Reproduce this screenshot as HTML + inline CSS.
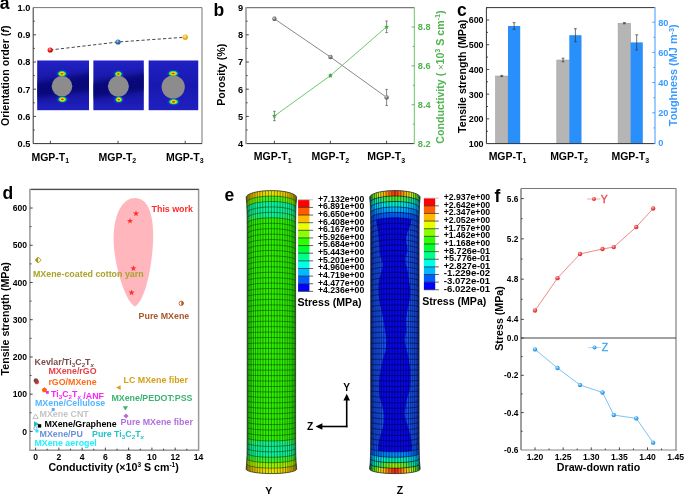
<!DOCTYPE html>
<html><head><meta charset="utf-8"><style>
html,body{margin:0;padding:0;background:#fff;overflow:hidden;}
svg{display:block;will-change:transform;}
text{font-family:"Liberation Sans", sans-serif;}
</style></head><body>
<svg width="685" height="494" viewBox="0 0 685 494">

<defs>
<linearGradient id="insbg" x1="0" y1="0" x2="0" y2="1">
 <stop offset="0" stop-color="#2222c8"/><stop offset="0.3" stop-color="#1a1aac"/>
 <stop offset="0.5" stop-color="#14149c"/><stop offset="0.7" stop-color="#1818a8"/>
 <stop offset="1" stop-color="#2020c0"/>
</linearGradient>
<linearGradient id="insbg3" x1="0" y1="0" x2="0" y2="1">
 <stop offset="0" stop-color="#2020c4"/><stop offset="0.5" stop-color="#1818b0"/>
 <stop offset="1" stop-color="#2020c0"/>
</linearGradient>
<filter id="blur2" x="-20%" y="-50%" width="140%" height="200%"><feGaussianBlur stdDeviation="2.5"/></filter>
<radialGradient id="spot">
 <stop offset="0" stop-color="#ff1a00"/><stop offset="0.22" stop-color="#ff4000"/>
 <stop offset="0.42" stop-color="#f4e800"/><stop offset="0.62" stop-color="#60f020"/>
 <stop offset="0.8" stop-color="#10e050"/><stop offset="1" stop-color="#10a0e0" stop-opacity="0"/>
</radialGradient>
<radialGradient id="halo">
 <stop offset="0" stop-color="#20a0ff" stop-opacity="0.9"/><stop offset="0.6" stop-color="#2060f0" stop-opacity="0.5"/>
 <stop offset="1" stop-color="#2020c0" stop-opacity="0"/>
</radialGradient>
<radialGradient id="gr" cx="0.4" cy="0.35" r="0.7"><stop offset="0" stop-color="#ffb0b0"/><stop offset="0.45" stop-color="#f02020"/><stop offset="1" stop-color="#b00000"/></radialGradient>
<radialGradient id="gb" cx="0.4" cy="0.35" r="0.7"><stop offset="0" stop-color="#a0c8f0"/><stop offset="0.45" stop-color="#3a78b8"/><stop offset="1" stop-color="#1a4a80"/></radialGradient>
<radialGradient id="gy" cx="0.4" cy="0.35" r="0.7"><stop offset="0" stop-color="#fff0a0"/><stop offset="0.45" stop-color="#f8c020"/><stop offset="1" stop-color="#d09000"/></radialGradient>
<radialGradient id="ggray" cx="0.4" cy="0.35" r="0.7"><stop offset="0" stop-color="#e0e0e0"/><stop offset="0.45" stop-color="#808080"/><stop offset="1" stop-color="#505050"/></radialGradient>
<radialGradient id="gred2" cx="0.4" cy="0.35" r="0.7"><stop offset="0" stop-color="#ffc0c0"/><stop offset="0.5" stop-color="#ee4444"/><stop offset="1" stop-color="#c83030"/></radialGradient>
<radialGradient id="gblu2" cx="0.4" cy="0.35" r="0.7"><stop offset="0" stop-color="#d0ecff"/><stop offset="0.5" stop-color="#40a8f0"/><stop offset="1" stop-color="#2088d8"/></radialGradient>
</defs>
<defs><linearGradient id="rg0" gradientUnits="userSpaceOnUse" x1="246.20" y1="0" x2="296.60" y2="0"><stop offset="0.000" stop-color="#d89000"/><stop offset="0.125" stop-color="#e8b000"/><stop offset="0.250" stop-color="#f0c800"/><stop offset="0.375" stop-color="#f0d800"/><stop offset="0.500" stop-color="#f0e000"/><stop offset="0.625" stop-color="#f0d800"/><stop offset="0.750" stop-color="#f0c800"/><stop offset="0.875" stop-color="#e8b000"/><stop offset="1.000" stop-color="#d89000"/></linearGradient><linearGradient id="rg1" gradientUnits="userSpaceOnUse" x1="246.20" y1="0" x2="296.60" y2="0"><stop offset="0.000" stop-color="#90e000"/><stop offset="0.167" stop-color="#70e800"/><stop offset="0.333" stop-color="#50f020"/><stop offset="0.500" stop-color="#40f020"/><stop offset="0.667" stop-color="#50f020"/><stop offset="0.833" stop-color="#70e800"/><stop offset="1.000" stop-color="#90e000"/></linearGradient><linearGradient id="rg2" gradientUnits="userSpaceOnUse" x1="246.20" y1="0" x2="296.60" y2="0"><stop offset="0.000" stop-color="#30f050"/><stop offset="0.167" stop-color="#28f070"/><stop offset="0.333" stop-color="#18f090"/><stop offset="0.500" stop-color="#10f0a0"/><stop offset="0.667" stop-color="#18f090"/><stop offset="0.833" stop-color="#28f070"/><stop offset="1.000" stop-color="#30f050"/></linearGradient><linearGradient id="rg3" gradientUnits="userSpaceOnUse" x1="246.20" y1="0" x2="296.60" y2="0"><stop offset="0.000" stop-color="#30f050"/><stop offset="0.167" stop-color="#28f070"/><stop offset="0.333" stop-color="#18f090"/><stop offset="0.500" stop-color="#10f0a0"/><stop offset="0.667" stop-color="#18f090"/><stop offset="0.833" stop-color="#28f070"/><stop offset="1.000" stop-color="#30f050"/></linearGradient><linearGradient id="rg4" gradientUnits="userSpaceOnUse" x1="246.20" y1="0" x2="296.60" y2="0"><stop offset="0.000" stop-color="#c0e000"/><stop offset="0.167" stop-color="#b0e800"/><stop offset="0.333" stop-color="#a0f000"/><stop offset="0.500" stop-color="#a0f000"/><stop offset="0.667" stop-color="#a0f000"/><stop offset="0.833" stop-color="#b0e800"/><stop offset="1.000" stop-color="#c0e000"/></linearGradient><linearGradient id="rg5" gradientUnits="userSpaceOnUse" x1="246.20" y1="0" x2="296.60" y2="0"><stop offset="0.000" stop-color="#d89000"/><stop offset="0.125" stop-color="#e8b000"/><stop offset="0.250" stop-color="#f0c800"/><stop offset="0.375" stop-color="#f0d800"/><stop offset="0.500" stop-color="#f0e000"/><stop offset="0.625" stop-color="#f0d800"/><stop offset="0.750" stop-color="#f0c800"/><stop offset="0.875" stop-color="#e8b000"/><stop offset="1.000" stop-color="#d89000"/></linearGradient><linearGradient id="rg6" gradientUnits="userSpaceOnUse" x1="369.70" y1="0" x2="420.10" y2="0"><stop offset="0.000" stop-color="#30e040"/><stop offset="0.100" stop-color="#80f000"/><stop offset="0.200" stop-color="#e8f000"/><stop offset="0.300" stop-color="#ffb000"/><stop offset="0.400" stop-color="#ff7000"/><stop offset="0.500" stop-color="#ff3000"/><stop offset="0.600" stop-color="#ff7000"/><stop offset="0.700" stop-color="#ffb000"/><stop offset="0.800" stop-color="#e8f000"/><stop offset="0.900" stop-color="#80f000"/><stop offset="1.000" stop-color="#30e040"/></linearGradient><linearGradient id="rg7" gradientUnits="userSpaceOnUse" x1="369.70" y1="0" x2="420.10" y2="0"><stop offset="0.000" stop-color="#00e0d0"/><stop offset="0.125" stop-color="#00f0a0"/><stop offset="0.250" stop-color="#30f060"/><stop offset="0.375" stop-color="#50f030"/><stop offset="0.500" stop-color="#40f020"/><stop offset="0.625" stop-color="#50f030"/><stop offset="0.750" stop-color="#30f060"/><stop offset="0.875" stop-color="#00f0a0"/><stop offset="1.000" stop-color="#00e0d0"/></linearGradient><linearGradient id="rg8" gradientUnits="userSpaceOnUse" x1="369.70" y1="0" x2="420.10" y2="0"><stop offset="0.000" stop-color="#00b0ff"/><stop offset="0.167" stop-color="#00d8f0"/><stop offset="0.333" stop-color="#00e8d8"/><stop offset="0.500" stop-color="#00f0c0"/><stop offset="0.667" stop-color="#00e8d8"/><stop offset="0.833" stop-color="#00d8f0"/><stop offset="1.000" stop-color="#00b0ff"/></linearGradient><linearGradient id="rg9" gradientUnits="userSpaceOnUse" x1="369.70" y1="0" x2="420.10" y2="0"><stop offset="0.000" stop-color="#0080ff"/><stop offset="0.167" stop-color="#0098ff"/><stop offset="0.333" stop-color="#00b0ff"/><stop offset="0.500" stop-color="#00b8ff"/><stop offset="0.667" stop-color="#00b0ff"/><stop offset="0.833" stop-color="#0098ff"/><stop offset="1.000" stop-color="#0080ff"/></linearGradient><linearGradient id="rg10" gradientUnits="userSpaceOnUse" x1="369.70" y1="0" x2="420.10" y2="0"><stop offset="0.000" stop-color="#1058f8"/><stop offset="0.250" stop-color="#0060ff"/><stop offset="0.500" stop-color="#0068ff"/><stop offset="0.750" stop-color="#0060ff"/><stop offset="1.000" stop-color="#1058f8"/></linearGradient><linearGradient id="rg11" gradientUnits="userSpaceOnUse" x1="369.70" y1="0" x2="420.10" y2="0"><stop offset="0.000" stop-color="#0068ff"/><stop offset="0.167" stop-color="#0078ff"/><stop offset="0.333" stop-color="#0088ff"/><stop offset="0.500" stop-color="#0090ff"/><stop offset="0.667" stop-color="#0088ff"/><stop offset="0.833" stop-color="#0078ff"/><stop offset="1.000" stop-color="#0068ff"/></linearGradient><linearGradient id="rg12" gradientUnits="userSpaceOnUse" x1="369.70" y1="0" x2="420.10" y2="0"><stop offset="0.000" stop-color="#00c0ff"/><stop offset="0.167" stop-color="#00e0e0"/><stop offset="0.333" stop-color="#00f0b0"/><stop offset="0.500" stop-color="#00f0a0"/><stop offset="0.667" stop-color="#00f0b0"/><stop offset="0.833" stop-color="#00e0e0"/><stop offset="1.000" stop-color="#00c0ff"/></linearGradient><linearGradient id="rg13" gradientUnits="userSpaceOnUse" x1="369.70" y1="0" x2="420.10" y2="0"><stop offset="0.000" stop-color="#00e0c0"/><stop offset="0.125" stop-color="#00f0a0"/><stop offset="0.250" stop-color="#40f040"/><stop offset="0.375" stop-color="#80f000"/><stop offset="0.500" stop-color="#a0f000"/><stop offset="0.625" stop-color="#80f000"/><stop offset="0.750" stop-color="#40f040"/><stop offset="0.875" stop-color="#00f0a0"/><stop offset="1.000" stop-color="#00e0c0"/></linearGradient><linearGradient id="rg14" gradientUnits="userSpaceOnUse" x1="369.70" y1="0" x2="420.10" y2="0"><stop offset="0.000" stop-color="#30e040"/><stop offset="0.100" stop-color="#60f000"/><stop offset="0.200" stop-color="#e0f000"/><stop offset="0.300" stop-color="#ffb000"/><stop offset="0.400" stop-color="#ff6000"/><stop offset="0.500" stop-color="#ff2000"/><stop offset="0.600" stop-color="#ff6000"/><stop offset="0.700" stop-color="#ffb000"/><stop offset="0.800" stop-color="#e0f000"/><stop offset="0.900" stop-color="#60f000"/><stop offset="1.000" stop-color="#30e040"/></linearGradient></defs>
<text x="-0.30" y="9.00" font-size="17.5" text-anchor="start" fill="#000" font-weight="bold" >a</text>
<clipPath id="ic0"><rect x="37.1" y="60.3" width="51.9" height="50.1"/></clipPath><g clip-path="url(#ic0)">
<rect x="37.1" y="60.3" width="51.9" height="50.1" fill="url(#insbg)"/>
<path d="M32.1,84 L94.0,72 L94.0,90 L32.1,99 Z" fill="#06065e" opacity="0.6" filter="url(#blur2)"/>
<ellipse cx="62.00" cy="73.70" rx="7.00" ry="4.8" fill="url(#halo)"/>
<ellipse cx="62.00" cy="73.70" rx="4.50" ry="2.9" fill="url(#spot)"/>
<ellipse cx="62.40" cy="99.40" rx="7.00" ry="4.8" fill="url(#halo)"/>
<ellipse cx="62.40" cy="99.40" rx="4.50" ry="2.9" fill="url(#spot)"/>
<circle cx="62.0" cy="86.3" r="10.3" fill="#8c8c8c"/>
</g>
<clipPath id="ic1"><rect x="93.2" y="60.3" width="50.7" height="50.1"/></clipPath><g clip-path="url(#ic1)">
<rect x="93.2" y="60.3" width="50.7" height="50.1" fill="url(#insbg)"/>
<path d="M88.2,84 L148.9,72 L148.9,90 L88.2,99 Z" fill="#06065e" opacity="0.6" filter="url(#blur2)"/>
<ellipse cx="118.40" cy="74.00" rx="6.25" ry="4.8" fill="url(#halo)"/>
<ellipse cx="118.40" cy="74.00" rx="3.75" ry="2.9" fill="url(#spot)"/>
<ellipse cx="118.80" cy="99.60" rx="6.25" ry="4.8" fill="url(#halo)"/>
<ellipse cx="118.80" cy="99.60" rx="3.75" ry="2.9" fill="url(#spot)"/>
<circle cx="118.4" cy="86.3" r="10.5" fill="#8c8c8c"/>
</g>
<clipPath id="ic2"><rect x="148.4" y="60.3" width="50.1" height="50.1"/></clipPath><g clip-path="url(#ic2)">
<rect x="148.4" y="60.3" width="50.1" height="50.1" fill="url(#insbg3)"/>
<ellipse cx="173.20" cy="73.50" rx="7.50" ry="4.8" fill="url(#halo)"/>
<ellipse cx="173.20" cy="73.50" rx="5.00" ry="2.9" fill="url(#spot)"/>
<ellipse cx="173.60" cy="101.80" rx="7.50" ry="4.8" fill="url(#halo)"/>
<ellipse cx="173.60" cy="101.80" rx="5.00" ry="2.9" fill="url(#spot)"/>
<circle cx="173.2" cy="87.0" r="11.6" fill="#8c8c8c"/>
</g>
<polyline points="33.2,7.6 202.0,7.6 202.0,143.6" fill="none" stroke="#777" stroke-width="1"/>
<polyline points="33.2,7.6 33.2,143.6 202.0,143.6" fill="none" stroke="#333" stroke-width="1"/>
<text x="30.40" y="147.00" font-size="9.6" text-anchor="end" fill="#000" font-weight="bold" textLength="12.81" lengthAdjust="spacingAndGlyphs">0.5</text>
<line x1="33.20" y1="116.40" x2="36.00" y2="116.40" stroke="#333" stroke-width="0.9" />
<text x="30.40" y="119.80" font-size="9.6" text-anchor="end" fill="#000" font-weight="bold" textLength="12.81" lengthAdjust="spacingAndGlyphs">0.6</text>
<line x1="33.20" y1="89.20" x2="36.00" y2="89.20" stroke="#333" stroke-width="0.9" />
<text x="30.40" y="92.60" font-size="9.6" text-anchor="end" fill="#000" font-weight="bold" textLength="12.81" lengthAdjust="spacingAndGlyphs">0.7</text>
<line x1="33.20" y1="62.00" x2="36.00" y2="62.00" stroke="#333" stroke-width="0.9" />
<text x="30.40" y="65.40" font-size="9.6" text-anchor="end" fill="#000" font-weight="bold" textLength="12.81" lengthAdjust="spacingAndGlyphs">0.8</text>
<line x1="33.20" y1="34.80" x2="36.00" y2="34.80" stroke="#333" stroke-width="0.9" />
<text x="30.40" y="38.20" font-size="9.6" text-anchor="end" fill="#000" font-weight="bold" textLength="12.81" lengthAdjust="spacingAndGlyphs">0.9</text>
<text x="30.40" y="11.00" font-size="9.6" text-anchor="end" fill="#000" font-weight="bold" textLength="12.81" lengthAdjust="spacingAndGlyphs">1.0</text>
<line x1="33.20" y1="130.00" x2="34.80" y2="130.00" stroke="#333" stroke-width="0.9" />
<line x1="33.20" y1="102.80" x2="34.80" y2="102.80" stroke="#333" stroke-width="0.9" />
<line x1="33.20" y1="75.60" x2="34.80" y2="75.60" stroke="#333" stroke-width="0.9" />
<line x1="33.20" y1="48.40" x2="34.80" y2="48.40" stroke="#333" stroke-width="0.9" />
<line x1="33.20" y1="21.20" x2="34.80" y2="21.20" stroke="#333" stroke-width="0.9" />
<line x1="50.40" y1="143.60" x2="50.40" y2="140.80" stroke="#333" stroke-width="0.9" />
<line x1="118.00" y1="143.60" x2="118.00" y2="140.80" stroke="#333" stroke-width="0.9" />
<line x1="185.20" y1="143.60" x2="185.20" y2="140.80" stroke="#333" stroke-width="0.9" />
<text x="50.30" y="161.00" font-size="10.5" text-anchor="middle" fill="#000" font-weight="bold" >MGP-T<tspan font-size="7" dy="2.2">1</tspan></text>
<text x="117.40" y="161.00" font-size="10.5" text-anchor="middle" fill="#000" font-weight="bold" >MGP-T<tspan font-size="7" dy="2.2">2</tspan></text>
<text x="184.80" y="161.00" font-size="10.5" text-anchor="middle" fill="#000" font-weight="bold" >MGP-T<tspan font-size="7" dy="2.2">3</tspan></text>
<polyline points="50.2,50.0 118.0,42.0 185.2,37.2" fill="none" stroke="#444" stroke-width="1" stroke-dasharray="3.2,2.2"/>
<circle cx="50.2" cy="50.0" r="2.6" fill="url(#gr)"/>
<circle cx="118.0" cy="42.0" r="2.6" fill="url(#gb)"/>
<circle cx="185.2" cy="37.2" r="2.6" fill="url(#gy)"/>
<text transform="translate(9.30,75.80) rotate(-90)" font-size="10.65" text-anchor="middle" fill="#000" font-weight="bold" >Orientation order (<tspan font-style="italic">f</tspan>)</text>
<text x="213.60" y="16.00" font-size="17.5" text-anchor="start" fill="#000" font-weight="bold" >b</text>
<polyline points="414.4,7.6 246.0,7.6" fill="none" stroke="#7a7a7a" stroke-width="1.2"/>
<polyline points="246.0,143.6 414.4,143.6" fill="none" stroke="#333" stroke-width="1"/>
<line x1="246.00" y1="7.10" x2="246.00" y2="144.10" stroke="#9a9a9a" stroke-width="1.6" />
<line x1="414.40" y1="7.00" x2="414.40" y2="144.10" stroke="#8ccf8c" stroke-width="1.3" />
<text x="243.20" y="147.00" font-size="9.6" text-anchor="end" fill="#000" font-weight="bold" textLength="5.13" lengthAdjust="spacingAndGlyphs">4</text>
<line x1="246.00" y1="116.40" x2="248.80" y2="116.40" stroke="#333" stroke-width="0.9" />
<text x="243.20" y="119.80" font-size="9.6" text-anchor="end" fill="#000" font-weight="bold" textLength="5.13" lengthAdjust="spacingAndGlyphs">5</text>
<line x1="246.00" y1="89.20" x2="248.80" y2="89.20" stroke="#333" stroke-width="0.9" />
<text x="243.20" y="92.60" font-size="9.6" text-anchor="end" fill="#000" font-weight="bold" textLength="5.13" lengthAdjust="spacingAndGlyphs">6</text>
<line x1="246.00" y1="62.00" x2="248.80" y2="62.00" stroke="#333" stroke-width="0.9" />
<text x="243.20" y="65.40" font-size="9.6" text-anchor="end" fill="#000" font-weight="bold" textLength="5.13" lengthAdjust="spacingAndGlyphs">7</text>
<line x1="246.00" y1="34.80" x2="248.80" y2="34.80" stroke="#333" stroke-width="0.9" />
<text x="243.20" y="38.20" font-size="9.6" text-anchor="end" fill="#000" font-weight="bold" textLength="5.13" lengthAdjust="spacingAndGlyphs">8</text>
<text x="243.20" y="11.00" font-size="9.6" text-anchor="end" fill="#000" font-weight="bold" textLength="5.13" lengthAdjust="spacingAndGlyphs">9</text>
<line x1="246.00" y1="130.00" x2="247.60" y2="130.00" stroke="#333" stroke-width="0.9" />
<line x1="246.00" y1="102.80" x2="247.60" y2="102.80" stroke="#333" stroke-width="0.9" />
<line x1="246.00" y1="75.60" x2="247.60" y2="75.60" stroke="#333" stroke-width="0.9" />
<line x1="246.00" y1="48.40" x2="247.60" y2="48.40" stroke="#333" stroke-width="0.9" />
<line x1="246.00" y1="21.20" x2="247.60" y2="21.20" stroke="#333" stroke-width="0.9" />
<text x="417.80" y="147.00" font-size="9.6" text-anchor="start" fill="#4fb34f" font-weight="bold" textLength="12.81" lengthAdjust="spacingAndGlyphs">8.2</text>
<line x1="414.40" y1="104.74" x2="411.60" y2="104.74" stroke="#4fb34f" stroke-width="0.9" />
<text x="417.80" y="108.14" font-size="9.6" text-anchor="start" fill="#4fb34f" font-weight="bold" textLength="12.81" lengthAdjust="spacingAndGlyphs">8.4</text>
<line x1="414.40" y1="65.88" x2="411.60" y2="65.88" stroke="#4fb34f" stroke-width="0.9" />
<text x="417.80" y="69.28" font-size="9.6" text-anchor="start" fill="#4fb34f" font-weight="bold" textLength="12.81" lengthAdjust="spacingAndGlyphs">8.6</text>
<line x1="414.40" y1="27.02" x2="411.60" y2="27.02" stroke="#4fb34f" stroke-width="0.9" />
<text x="417.80" y="30.42" font-size="9.6" text-anchor="start" fill="#4fb34f" font-weight="bold" textLength="12.81" lengthAdjust="spacingAndGlyphs">8.8</text>
<line x1="414.40" y1="124.17" x2="412.80" y2="124.17" stroke="#4fb34f" stroke-width="0.9" />
<line x1="414.40" y1="85.31" x2="412.80" y2="85.31" stroke="#4fb34f" stroke-width="0.9" />
<line x1="414.40" y1="46.45" x2="412.80" y2="46.45" stroke="#4fb34f" stroke-width="0.9" />
<line x1="274.40" y1="143.60" x2="274.40" y2="140.80" stroke="#333" stroke-width="0.9" />
<line x1="330.40" y1="143.60" x2="330.40" y2="140.80" stroke="#333" stroke-width="0.9" />
<line x1="386.60" y1="143.60" x2="386.60" y2="140.80" stroke="#333" stroke-width="0.9" />
<text x="272.70" y="160.40" font-size="10.5" text-anchor="middle" fill="#000" font-weight="bold" >MGP-T<tspan font-size="7" dy="2.2">1</tspan></text>
<text x="330.40" y="160.40" font-size="10.5" text-anchor="middle" fill="#000" font-weight="bold" >MGP-T<tspan font-size="7" dy="2.2">2</tspan></text>
<text x="386.20" y="160.40" font-size="10.5" text-anchor="middle" fill="#000" font-weight="bold" >MGP-T<tspan font-size="7" dy="2.2">3</tspan></text>
<polyline points="274.4,18.8 330.4,57.0 386.6,97.4" fill="none" stroke="#7a7a7a" stroke-width="0.9"/>
<polyline points="274.4,116.0 330.4,75.6 386.6,26.8" fill="none" stroke="#5cc25c" stroke-width="0.9"/>
<line x1="274.40" y1="17.30" x2="274.40" y2="20.30" stroke="#555" stroke-width="0.7" />
<line x1="273.10" y1="17.30" x2="275.70" y2="17.30" stroke="#555" stroke-width="0.7" />
<line x1="273.10" y1="20.30" x2="275.70" y2="20.30" stroke="#555" stroke-width="0.7" />
<line x1="330.40" y1="55.50" x2="330.40" y2="58.50" stroke="#555" stroke-width="0.7" />
<line x1="329.10" y1="55.50" x2="331.70" y2="55.50" stroke="#555" stroke-width="0.7" />
<line x1="329.10" y1="58.50" x2="331.70" y2="58.50" stroke="#555" stroke-width="0.7" />
<line x1="386.60" y1="89.40" x2="386.60" y2="105.40" stroke="#555" stroke-width="0.7" />
<line x1="385.30" y1="89.40" x2="387.90" y2="89.40" stroke="#555" stroke-width="0.7" />
<line x1="385.30" y1="105.40" x2="387.90" y2="105.40" stroke="#555" stroke-width="0.7" />
<line x1="274.40" y1="111.30" x2="274.40" y2="120.70" stroke="#555" stroke-width="0.7" />
<line x1="273.10" y1="111.30" x2="275.70" y2="111.30" stroke="#555" stroke-width="0.7" />
<line x1="273.10" y1="120.70" x2="275.70" y2="120.70" stroke="#555" stroke-width="0.7" />
<line x1="330.40" y1="74.40" x2="330.40" y2="76.80" stroke="#555" stroke-width="0.7" />
<line x1="329.10" y1="74.40" x2="331.70" y2="74.40" stroke="#555" stroke-width="0.7" />
<line x1="329.10" y1="76.80" x2="331.70" y2="76.80" stroke="#555" stroke-width="0.7" />
<line x1="386.60" y1="21.00" x2="386.60" y2="32.60" stroke="#555" stroke-width="0.7" />
<line x1="385.30" y1="21.00" x2="387.90" y2="21.00" stroke="#555" stroke-width="0.7" />
<line x1="385.30" y1="32.60" x2="387.90" y2="32.60" stroke="#555" stroke-width="0.7" />
<circle cx="274.4" cy="18.8" r="2.2" fill="url(#ggray)"/>
<circle cx="330.4" cy="57.0" r="2.2" fill="url(#ggray)"/>
<circle cx="386.6" cy="97.4" r="2.2" fill="url(#ggray)"/>
<path d="M274.40,113.40 L275.05,115.11 L276.87,115.20 L275.45,116.34 L275.93,118.10 L274.40,117.10 L272.87,118.10 L273.35,116.34 L271.93,115.20 L273.75,115.11 Z" fill="#3fae3f"/>
<path d="M330.40,73.00 L331.05,74.71 L332.87,74.80 L331.45,75.94 L331.93,77.70 L330.40,76.70 L328.87,77.70 L329.35,75.94 L327.93,74.80 L329.75,74.71 Z" fill="#3fae3f"/>
<path d="M386.60,24.20 L387.25,25.91 L389.07,26.00 L387.65,27.14 L388.13,28.90 L386.60,27.90 L385.07,28.90 L385.55,27.14 L384.13,26.00 L385.95,25.91 Z" fill="#3fae3f"/>
<text transform="translate(225.00,74.80) rotate(-90)" font-size="10.65" text-anchor="middle" fill="#000" font-weight="bold" >Porosity (%)</text>
<text transform="translate(443.60,77.00) rotate(-90)" font-size="10.65" text-anchor="middle" fill="#4fb34f" font-weight="bold" >Conductivity (<tspan font-weight="normal" font-size="9.5"> ×</tspan>10<tspan font-size="7.2" dy="-3.8">3</tspan><tspan dy="3.8"> S cm</tspan><tspan font-size="7.2" dy="-3.8">-1</tspan><tspan dy="3.8">)</tspan></text>
<text x="457.00" y="16.30" font-size="17.5" text-anchor="start" fill="#000" font-weight="bold" >c</text>
<rect x="495.5" y="76.0" width="12.5" height="67.6" fill="#b5b5b5" stroke="#9a9a9a" stroke-width="0.5"/>
<rect x="508.0" y="26.0" width="12.2" height="117.6" fill="#2990fb"/>
<line x1="501.75" y1="75.40" x2="501.75" y2="76.60" stroke="#333" stroke-width="0.7" />
<line x1="500.35" y1="75.40" x2="503.15" y2="75.40" stroke="#333" stroke-width="0.7" />
<line x1="500.35" y1="76.60" x2="503.15" y2="76.60" stroke="#333" stroke-width="0.7" />
<line x1="514.10" y1="22.70" x2="514.10" y2="29.30" stroke="#333" stroke-width="0.7" />
<line x1="512.70" y1="22.70" x2="515.50" y2="22.70" stroke="#333" stroke-width="0.7" />
<line x1="512.70" y1="29.30" x2="515.50" y2="29.30" stroke="#333" stroke-width="0.7" />
<rect x="556.8" y="60.0" width="12.5" height="83.6" fill="#b5b5b5" stroke="#9a9a9a" stroke-width="0.5"/>
<rect x="569.3" y="35.2" width="12.2" height="108.39999999999999" fill="#2990fb"/>
<line x1="563.05" y1="58.20" x2="563.05" y2="61.80" stroke="#333" stroke-width="0.7" />
<line x1="561.65" y1="58.20" x2="564.45" y2="58.20" stroke="#333" stroke-width="0.7" />
<line x1="561.65" y1="61.80" x2="564.45" y2="61.80" stroke="#333" stroke-width="0.7" />
<line x1="575.40" y1="28.70" x2="575.40" y2="41.70" stroke="#333" stroke-width="0.7" />
<line x1="574.00" y1="28.70" x2="576.80" y2="28.70" stroke="#333" stroke-width="0.7" />
<line x1="574.00" y1="41.70" x2="576.80" y2="41.70" stroke="#333" stroke-width="0.7" />
<rect x="618.1" y="23.2" width="12.5" height="120.39999999999999" fill="#b5b5b5" stroke="#9a9a9a" stroke-width="0.5"/>
<rect x="630.6" y="42.4" width="12.2" height="101.19999999999999" fill="#2990fb"/>
<line x1="624.35" y1="22.60" x2="624.35" y2="23.80" stroke="#333" stroke-width="0.7" />
<line x1="622.95" y1="22.60" x2="625.75" y2="22.60" stroke="#333" stroke-width="0.7" />
<line x1="622.95" y1="23.80" x2="625.75" y2="23.80" stroke="#333" stroke-width="0.7" />
<line x1="636.70" y1="34.80" x2="636.70" y2="50.00" stroke="#333" stroke-width="0.7" />
<line x1="635.30" y1="34.80" x2="638.10" y2="34.80" stroke="#333" stroke-width="0.7" />
<line x1="635.30" y1="50.00" x2="638.10" y2="50.00" stroke="#333" stroke-width="0.7" />
<polyline points="655.0,7.6 486.4,7.6 486.4,143.6 655.0,143.6" fill="none" stroke="#333" stroke-width="1"/>
<line x1="655.00" y1="7.10" x2="655.00" y2="144.10" stroke="#6ab0ff" stroke-width="1.3" />
<text x="483.60" y="147.00" font-size="9.6" text-anchor="end" fill="#000" font-weight="bold" textLength="14.90" lengthAdjust="spacingAndGlyphs">100</text>
<line x1="486.40" y1="118.88" x2="489.20" y2="118.88" stroke="#333" stroke-width="0.9" />
<text x="483.60" y="122.28" font-size="9.6" text-anchor="end" fill="#000" font-weight="bold" textLength="14.90" lengthAdjust="spacingAndGlyphs">200</text>
<line x1="486.40" y1="94.16" x2="489.20" y2="94.16" stroke="#333" stroke-width="0.9" />
<text x="483.60" y="97.56" font-size="9.6" text-anchor="end" fill="#000" font-weight="bold" textLength="14.90" lengthAdjust="spacingAndGlyphs">300</text>
<line x1="486.40" y1="69.44" x2="489.20" y2="69.44" stroke="#333" stroke-width="0.9" />
<text x="483.60" y="72.84" font-size="9.6" text-anchor="end" fill="#000" font-weight="bold" textLength="14.90" lengthAdjust="spacingAndGlyphs">400</text>
<line x1="486.40" y1="44.72" x2="489.20" y2="44.72" stroke="#333" stroke-width="0.9" />
<text x="483.60" y="48.12" font-size="9.6" text-anchor="end" fill="#000" font-weight="bold" textLength="14.90" lengthAdjust="spacingAndGlyphs">500</text>
<line x1="486.40" y1="20.00" x2="489.20" y2="20.00" stroke="#333" stroke-width="0.9" />
<text x="483.60" y="23.40" font-size="9.6" text-anchor="end" fill="#000" font-weight="bold" textLength="14.90" lengthAdjust="spacingAndGlyphs">600</text>
<line x1="486.40" y1="131.24" x2="488.00" y2="131.24" stroke="#333" stroke-width="0.9" />
<line x1="486.40" y1="106.52" x2="488.00" y2="106.52" stroke="#333" stroke-width="0.9" />
<line x1="486.40" y1="81.80" x2="488.00" y2="81.80" stroke="#333" stroke-width="0.9" />
<line x1="486.40" y1="57.08" x2="488.00" y2="57.08" stroke="#333" stroke-width="0.9" />
<line x1="486.40" y1="32.36" x2="488.00" y2="32.36" stroke="#333" stroke-width="0.9" />
<line x1="486.40" y1="7.64" x2="488.00" y2="7.64" stroke="#333" stroke-width="0.9" />
<text x="658.20" y="146.40" font-size="9.6" text-anchor="start" fill="#3a9bff" font-weight="bold" textLength="5.13" lengthAdjust="spacingAndGlyphs">0</text>
<line x1="655.00" y1="112.80" x2="652.20" y2="112.80" stroke="#3a9bff" stroke-width="0.9" />
<text x="658.20" y="116.20" font-size="9.6" text-anchor="start" fill="#3a9bff" font-weight="bold" textLength="10.25" lengthAdjust="spacingAndGlyphs">20</text>
<line x1="655.00" y1="82.60" x2="652.20" y2="82.60" stroke="#3a9bff" stroke-width="0.9" />
<text x="658.20" y="86.00" font-size="9.6" text-anchor="start" fill="#3a9bff" font-weight="bold" textLength="10.25" lengthAdjust="spacingAndGlyphs">40</text>
<line x1="655.00" y1="52.40" x2="652.20" y2="52.40" stroke="#3a9bff" stroke-width="0.9" />
<text x="658.20" y="55.80" font-size="9.6" text-anchor="start" fill="#3a9bff" font-weight="bold" textLength="10.25" lengthAdjust="spacingAndGlyphs">60</text>
<line x1="655.00" y1="22.20" x2="652.20" y2="22.20" stroke="#3a9bff" stroke-width="0.9" />
<text x="658.20" y="25.60" font-size="9.6" text-anchor="start" fill="#3a9bff" font-weight="bold" textLength="10.25" lengthAdjust="spacingAndGlyphs">80</text>
<line x1="655.00" y1="127.90" x2="653.40" y2="127.90" stroke="#3a9bff" stroke-width="0.9" />
<line x1="655.00" y1="97.70" x2="653.40" y2="97.70" stroke="#3a9bff" stroke-width="0.9" />
<line x1="655.00" y1="67.50" x2="653.40" y2="67.50" stroke="#3a9bff" stroke-width="0.9" />
<line x1="655.00" y1="37.30" x2="653.40" y2="37.30" stroke="#3a9bff" stroke-width="0.9" />
<text x="507.50" y="160.40" font-size="10.5" text-anchor="middle" fill="#000" font-weight="bold" >MGP-T<tspan font-size="7" dy="2.2">1</tspan></text>
<text x="569.00" y="160.40" font-size="10.5" text-anchor="middle" fill="#000" font-weight="bold" >MGP-T<tspan font-size="7" dy="2.2">2</tspan></text>
<text x="630.30" y="160.40" font-size="10.5" text-anchor="middle" fill="#000" font-weight="bold" >MGP-T<tspan font-size="7" dy="2.2">3</tspan></text>
<text transform="translate(465.80,76.30) rotate(-90)" font-size="10.65" text-anchor="middle" fill="#000" font-weight="bold" >Tensile strength (MPa)</text>
<text transform="translate(677.30,75.30) rotate(-90)" font-size="10.9" text-anchor="middle" fill="#3a9bff" font-weight="bold" >Toughness (MJ m<tspan font-size="7.2" dy="-3.8">-3</tspan><tspan dy="3.8">)</tspan></text>
<text x="2.60" y="199.20" font-size="17.5" text-anchor="start" fill="#000" font-weight="bold" >d</text>
<path d="M135,198 C122,198 113.5,215 113.6,240 C113.8,262 124,300 135,306.6 C146,300 153,262 153.2,236 C153.4,212 147,198 135,198 Z" fill="#ffb6bd"/>
<rect x="29.9" y="189.4" width="168.70" height="260.80" fill="none" stroke="#999" stroke-width="1.5"/>
<line x1="30.9" y1="189.4" x2="198.6" y2="189.4" stroke="#444" stroke-width="1"/>
<line x1="29.90" y1="431.40" x2="32.70" y2="431.40" stroke="#333" stroke-width="0.9" />
<text x="27.00" y="434.50" font-size="8.6" text-anchor="end" fill="#000" font-weight="bold" >0</text>
<line x1="29.90" y1="394.17" x2="32.70" y2="394.17" stroke="#333" stroke-width="0.9" />
<text x="27.00" y="397.27" font-size="8.6" text-anchor="end" fill="#000" font-weight="bold" >100</text>
<line x1="29.90" y1="356.94" x2="32.70" y2="356.94" stroke="#333" stroke-width="0.9" />
<text x="27.00" y="360.04" font-size="8.6" text-anchor="end" fill="#000" font-weight="bold" >200</text>
<line x1="29.90" y1="319.71" x2="32.70" y2="319.71" stroke="#333" stroke-width="0.9" />
<text x="27.00" y="322.81" font-size="8.6" text-anchor="end" fill="#000" font-weight="bold" >300</text>
<line x1="29.90" y1="282.48" x2="32.70" y2="282.48" stroke="#333" stroke-width="0.9" />
<text x="27.00" y="285.58" font-size="8.6" text-anchor="end" fill="#000" font-weight="bold" >400</text>
<line x1="29.90" y1="245.25" x2="32.70" y2="245.25" stroke="#333" stroke-width="0.9" />
<text x="27.00" y="248.35" font-size="8.6" text-anchor="end" fill="#000" font-weight="bold" >500</text>
<line x1="29.90" y1="208.02" x2="32.70" y2="208.02" stroke="#333" stroke-width="0.9" />
<text x="27.00" y="211.12" font-size="8.6" text-anchor="end" fill="#000" font-weight="bold" >600</text>
<line x1="29.90" y1="412.78" x2="31.50" y2="412.78" stroke="#333" stroke-width="0.9" />
<line x1="29.90" y1="375.55" x2="31.50" y2="375.55" stroke="#333" stroke-width="0.9" />
<line x1="29.90" y1="338.32" x2="31.50" y2="338.32" stroke="#333" stroke-width="0.9" />
<line x1="29.90" y1="301.09" x2="31.50" y2="301.09" stroke="#333" stroke-width="0.9" />
<line x1="29.90" y1="263.87" x2="31.50" y2="263.87" stroke="#333" stroke-width="0.9" />
<line x1="29.90" y1="226.63" x2="31.50" y2="226.63" stroke="#333" stroke-width="0.9" />
<line x1="35.60" y1="450.20" x2="35.60" y2="447.60" stroke="#333" stroke-width="0.9" />
<text x="35.60" y="459.60" font-size="8.6" text-anchor="middle" fill="#000" font-weight="bold" >0</text>
<line x1="58.86" y1="450.20" x2="58.86" y2="447.60" stroke="#333" stroke-width="0.9" />
<text x="58.86" y="459.60" font-size="8.6" text-anchor="middle" fill="#000" font-weight="bold" >2</text>
<line x1="82.12" y1="450.20" x2="82.12" y2="447.60" stroke="#333" stroke-width="0.9" />
<text x="82.12" y="459.60" font-size="8.6" text-anchor="middle" fill="#000" font-weight="bold" >4</text>
<line x1="105.38" y1="450.20" x2="105.38" y2="447.60" stroke="#333" stroke-width="0.9" />
<text x="105.38" y="459.60" font-size="8.6" text-anchor="middle" fill="#000" font-weight="bold" >6</text>
<line x1="128.64" y1="450.20" x2="128.64" y2="447.60" stroke="#333" stroke-width="0.9" />
<text x="128.64" y="459.60" font-size="8.6" text-anchor="middle" fill="#000" font-weight="bold" >8</text>
<line x1="151.90" y1="450.20" x2="151.90" y2="447.60" stroke="#333" stroke-width="0.9" />
<text x="151.90" y="459.60" font-size="8.6" text-anchor="middle" fill="#000" font-weight="bold" >10</text>
<line x1="175.16" y1="450.20" x2="175.16" y2="447.60" stroke="#333" stroke-width="0.9" />
<text x="175.16" y="459.60" font-size="8.6" text-anchor="middle" fill="#000" font-weight="bold" >12</text>
<text x="198.42" y="459.60" font-size="8.6" text-anchor="middle" fill="#000" font-weight="bold" >14</text>
<line x1="47.23" y1="450.20" x2="47.23" y2="448.70" stroke="#333" stroke-width="0.9" />
<line x1="70.49" y1="450.20" x2="70.49" y2="448.70" stroke="#333" stroke-width="0.9" />
<line x1="93.75" y1="450.20" x2="93.75" y2="448.70" stroke="#333" stroke-width="0.9" />
<line x1="117.01" y1="450.20" x2="117.01" y2="448.70" stroke="#333" stroke-width="0.9" />
<line x1="140.27" y1="450.20" x2="140.27" y2="448.70" stroke="#333" stroke-width="0.9" />
<line x1="163.53" y1="450.20" x2="163.53" y2="448.70" stroke="#333" stroke-width="0.9" />
<line x1="186.79" y1="450.20" x2="186.79" y2="448.70" stroke="#333" stroke-width="0.9" />
<text transform="translate(8.90,318.80) rotate(-90)" font-size="10.65" text-anchor="middle" fill="#000" font-weight="bold" >Tensile strength (MPa)</text>
<text x="113.60" y="471.00" font-size="10.65" text-anchor="middle" fill="#000" font-weight="bold" >Conductivity (<tspan font-weight="bold">×</tspan>10<tspan font-size="6.5" dy="-3.6">3</tspan><tspan dy="3.6"> S cm</tspan><tspan font-size="6.5" dy="-3.6">-1</tspan><tspan dy="3.6">)</tspan></text>
<text x="151.60" y="212.00" font-size="8.85" text-anchor="start" fill="#ff2a2a" font-weight="bold" >This work</text>
<text x="33.00" y="277.00" font-size="8.85" text-anchor="start" fill="#aaa22a" font-weight="bold" >MXene-coated cotton yarn</text>
<text x="138.60" y="318.60" font-size="8.85" text-anchor="start" fill="#a8582a" font-weight="bold" >Pure MXene</text>
<text x="34.60" y="365.00" font-size="8.85" text-anchor="start" fill="#7a4b4b" font-weight="bold" >Kevlar/Ti<tspan font-size="6.2" dy="2">3</tspan><tspan dy="-2">C</tspan><tspan font-size="6.2" dy="2">2</tspan><tspan dy="-2">T</tspan><tspan font-size="6.2" dy="2" font-style="italic">x</tspan><tspan dy="-2"></tspan></text>
<text x="48.40" y="374.40" font-size="8.85" text-anchor="start" fill="#e8404a" font-weight="bold" >MXene/rGO</text>
<text x="48.40" y="385.40" font-size="8.85" text-anchor="start" fill="#ff6a1a" font-weight="bold" >rGO/MXene</text>
<text x="51.00" y="397.00" font-size="8.85" text-anchor="start" fill="#ff22ff" font-weight="bold" >Ti<tspan font-size="6.2" dy="2">3</tspan><tspan dy="-2">C</tspan><tspan font-size="6.2" dy="2">2</tspan><tspan dy="-2">T</tspan><tspan font-size="6.2" dy="2" font-style="italic">x</tspan><tspan dy="-2"></tspan> /ANF</text>
<text x="35.00" y="406.00" font-size="8.85" text-anchor="start" fill="#55b4ff" font-weight="bold" >MXene/Cellulose</text>
<text x="39.60" y="417.40" font-size="8.85" text-anchor="start" fill="#c4c4c4" font-weight="bold" >MXene CNT</text>
<text x="44.40" y="427.40" font-size="8.85" text-anchor="start" fill="#000" font-weight="bold" >MXene/Graphene</text>
<text x="39.60" y="437.40" font-size="8.85" text-anchor="start" fill="#6a90d8" font-weight="bold" >MXene/PU</text>
<text x="92.00" y="437.40" font-size="8.85" text-anchor="start" fill="#22c4cc" font-weight="bold" >Pure Ti<tspan font-size="6.2" dy="2">3</tspan><tspan dy="-2">C</tspan><tspan font-size="6.2" dy="2">2</tspan><tspan dy="-2">T</tspan><tspan font-size="6.2" dy="2" font-style="italic">x</tspan><tspan dy="-2"></tspan></text>
<text x="34.40" y="446.00" font-size="8.85" text-anchor="start" fill="#22eeff" font-weight="bold" >MXene aerogel</text>
<text x="123.60" y="382.60" font-size="8.85" text-anchor="start" fill="#d4a017" font-weight="bold" >LC MXene fiber</text>
<text x="111.40" y="401.40" font-size="8.85" text-anchor="start" fill="#3cb371" font-weight="bold" >MXene/PEDOT:PSS</text>
<text x="120.60" y="425.00" font-size="8.85" text-anchor="start" fill="#b070e0" font-weight="bold" >Pure MXene fiber</text>
<path d="M136.00,210.40 L136.76,212.55 L139.04,212.61 L137.24,214.00 L137.88,216.19 L136.00,214.90 L134.12,216.19 L134.76,214.00 L132.96,212.61 L135.24,212.55 Z" fill="#ff3030"/>
<path d="M130.00,217.80 L130.76,219.95 L133.04,220.01 L131.24,221.40 L131.88,223.59 L130.00,222.30 L128.12,223.59 L128.76,221.40 L126.96,220.01 L129.24,219.95 Z" fill="#ff3030"/>
<path d="M133.40,265.20 L134.16,267.35 L136.44,267.41 L134.64,268.80 L135.28,270.99 L133.40,269.70 L131.52,270.99 L132.16,268.80 L130.36,267.41 L132.64,267.35 Z" fill="#ff3030"/>
<path d="M131.60,289.40 L132.36,291.55 L134.64,291.61 L132.84,293.00 L133.48,295.19 L131.60,293.90 L129.72,295.19 L130.36,293.00 L128.56,291.61 L130.84,291.55 Z" fill="#ff3030"/>
<path d="M38.2,257.1 L41.2,260.1 L38.2,263.1 L35.2,260.1 Z" fill="none" stroke="#a89c10" stroke-width="0.9"/>
<path d="M38.2,257.1 L38.2,263.1 L35.2,260.1 Z" fill="#a89c10"/>
<circle cx="181.3" cy="303.3" r="2.2" fill="none" stroke="#b05a1a" stroke-width="0.8"/>
<path d="M181.3,301.1 A2.2,2.2 0 0 1 181.3,305.5 Z" fill="#b05a1a"/>
<circle cx="36.8" cy="382.1" r="2.3" fill="#ee3a3a"/>
<circle cx="35.9" cy="380.6" r="2.3" fill="#7a4a4a"/>
<path d="M44.40,387.20 L45.73,388.17 L47.06,389.13 L46.56,390.70 L46.05,392.27 L44.40,392.27 L42.75,392.27 L42.24,390.70 L41.74,389.13 L43.07,388.17 Z" fill="#ff6600"/>
<rect x="46.0" y="391.0" width="2.8" height="2.8" fill="#ff22ff"/>
<rect x="51.8" y="408.1" width="2.8" height="2.8" fill="#44aaff"/>
<path d="M35.6,414.0 L38.3,418.6 L32.9,418.6 Z" fill="none" stroke="#b0b0b0" stroke-width="0.8"/>
<path d="M34.0,421.2 L39.2,424.0 L34.0,426.8 Z" fill="#20c0c0"/>
<rect x="37.8" y="424.2" width="3.4" height="3.4" fill="#000"/>
<circle cx="35.4" cy="428.2" r="1.6" fill="none" stroke="#7a9ad8" stroke-width="0.8"/>
<circle cx="37.0" cy="431.0" r="1.8" fill="#22eeff"/>
<path d="M116.2,387.6 L120.6,385.2 L120.6,390.0 Z" fill="#d4a017"/>
<path d="M122.8,406.2 L128.0,406.2 L125.4,410.4 Z" fill="#3cb371"/>
<path d="M126,413.4 L128.6,416 L126,418.6 L123.4,416 Z" fill="#b070e0"/>
<text x="224.60" y="201.00" font-size="17.5" text-anchor="start" fill="#000" font-weight="bold" >e</text>
<clipPath id="cy1"><path d="M246.20,197.40 246.42,196.51 247.06,195.64 248.12,194.80 249.58,194.00 251.41,193.26 253.58,192.59 256.06,192.01 258.80,191.51 261.76,191.12 264.88,190.83 268.11,190.66 271.40,190.60 274.69,190.66 277.92,190.83 281.04,191.12 284.00,191.51 286.74,192.01 289.22,192.59 291.39,193.26 293.22,194.00 294.68,194.80 295.74,195.64 296.38,196.51 296.60,197.40 296.60,197.40 296.03,204.19 295.79,210.98 295.68,217.77 295.64,224.56 295.62,231.35 295.61,238.14 295.60,244.93 295.60,251.72 295.60,258.51 295.60,265.30 295.60,272.09 295.60,278.88 295.60,285.67 295.60,292.46 295.60,299.25 295.60,306.04 295.60,312.83 295.60,319.62 295.60,326.41 295.60,333.20 295.60,339.99 295.60,346.78 295.60,353.57 295.60,360.36 295.60,367.15 295.60,373.94 295.60,380.73 295.60,387.52 295.60,394.31 295.60,401.10 295.60,407.89 295.60,414.68 295.60,421.47 295.61,428.26 295.62,435.05 295.64,441.84 295.69,448.63 295.81,455.42 296.08,462.21 296.70,469.00 296.70,469.00 296.48,469.60 295.84,470.19 294.77,470.76 293.31,471.30 291.47,471.80 289.29,472.25 286.80,472.65 284.05,472.98 281.08,473.25 277.95,473.44 274.70,473.56 271.40,473.60 268.10,473.56 264.85,473.44 261.72,473.25 258.75,472.98 256.00,472.65 253.51,472.25 251.33,471.80 249.49,471.30 248.03,470.76 246.96,470.19 246.32,469.60 246.10,469.00 246.10,469.00 246.72,462.21 246.99,455.42 247.11,448.63 247.16,441.84 247.18,435.05 247.19,428.26 247.20,421.47 247.20,414.68 247.20,407.89 247.20,401.10 247.20,394.31 247.20,387.52 247.20,380.73 247.20,373.94 247.20,367.15 247.20,360.36 247.20,353.57 247.20,346.78 247.20,339.99 247.20,333.20 247.20,326.41 247.20,319.62 247.20,312.83 247.20,306.04 247.20,299.25 247.20,292.46 247.20,285.67 247.20,278.88 247.20,272.09 247.20,265.30 247.20,258.51 247.20,251.72 247.20,244.93 247.19,238.14 247.18,231.35 247.16,224.56 247.12,217.77 247.01,210.98 246.77,204.19 246.20,197.40Z"/></clipPath>
<g clip-path="url(#cy1)">
<rect x="241.39999999999998" y="185" width="60" height="295" fill="#30f000"/>

<path d="M246.20,194.40 246.42,193.51 247.06,192.64 248.12,191.80 249.58,191.00 251.41,190.26 253.58,189.59 256.06,189.01 258.80,188.51 261.76,188.12 264.88,187.83 268.11,187.66 271.40,187.60 274.69,187.66 277.92,187.83 281.04,188.12 284.00,188.51 286.74,189.01 289.22,189.59 291.39,190.26 293.22,191.00 294.68,191.80 295.74,192.64 296.38,193.51 296.60,194.40 296.13,202.62 295.92,201.76 295.28,200.92 294.24,200.10 292.81,199.33 291.02,198.62 288.88,197.97 286.45,197.40 283.76,196.92 280.86,196.54 277.80,196.27 274.63,196.10 271.40,196.04 268.17,196.10 265.00,196.27 261.94,196.54 259.04,196.92 256.35,197.40 253.92,197.97 251.78,198.62 249.99,199.33 248.56,200.10 247.52,200.92 246.88,201.76 246.67,202.62Z" fill="url(#rg0)"/>
<path d="M246.67,202.62 246.88,201.76 247.52,200.92 248.56,200.10 249.99,199.33 251.78,198.62 253.92,197.97 256.35,197.40 259.04,196.92 261.94,196.54 265.00,196.27 268.17,196.10 271.40,196.04 274.63,196.10 277.80,196.27 280.86,196.54 283.76,196.92 286.45,197.40 288.88,197.97 291.02,198.62 292.81,199.33 294.24,200.10 295.28,200.92 295.92,201.76 296.13,202.62 295.88,207.85 295.67,207.02 295.04,206.20 294.01,205.41 292.60,204.67 290.82,203.97 288.71,203.35 286.30,202.80 283.64,202.34 280.77,201.97 277.74,201.70 274.59,201.54 271.40,201.48 268.21,201.54 265.06,201.70 262.03,201.97 259.16,202.34 256.50,202.80 254.09,203.35 251.98,203.97 250.20,204.67 248.79,205.41 247.76,206.20 247.13,207.02 246.92,207.85Z" fill="url(#rg1)"/>
<path d="M246.92,207.85 247.13,207.02 247.76,206.20 248.79,205.41 250.20,204.67 251.98,203.97 254.09,203.35 256.50,202.80 259.16,202.34 262.03,201.97 265.06,201.70 268.21,201.54 271.40,201.48 274.59,201.54 277.74,201.70 280.77,201.97 283.64,202.34 286.30,202.80 288.71,203.35 290.82,203.97 292.60,204.67 294.01,205.41 295.04,206.20 295.67,207.02 295.88,207.85 295.75,213.07 295.54,212.27 294.92,211.48 293.89,210.72 292.48,210.00 290.72,209.33 288.62,208.73 286.22,208.20 283.57,207.75 280.72,207.39 277.70,207.14 274.58,206.98 271.40,206.93 268.22,206.98 265.10,207.14 262.08,207.39 259.23,207.75 256.58,208.20 254.18,208.73 252.08,209.33 250.32,210.00 248.91,210.72 247.88,211.48 247.26,212.27 247.05,213.07Z" fill="#10f0a0"/>
<path d="M247.05,213.07 247.26,212.27 247.88,211.48 248.91,210.72 250.32,210.00 252.08,209.33 254.18,208.73 256.58,208.20 259.23,207.75 262.08,207.39 265.10,207.14 268.22,206.98 271.40,206.93 274.58,206.98 277.70,207.14 280.72,207.39 283.57,207.75 286.22,208.20 288.62,208.73 290.72,209.33 292.48,210.00 293.89,210.72 294.92,211.48 295.54,212.27 295.75,213.07 295.68,218.29 295.47,217.52 294.85,216.76 293.83,216.03 292.42,215.33 290.66,214.69 288.57,214.10 286.18,213.59 283.54,213.16 280.69,212.82 277.68,212.57 274.57,212.42 271.40,212.37 268.23,212.42 265.12,212.57 262.11,212.82 259.26,213.16 256.62,213.59 254.23,214.10 252.14,214.69 250.38,215.33 248.97,216.03 247.95,216.76 247.33,217.52 247.12,218.29Z" fill="#10f0a0"/>
<path d="M247.12,218.29 247.33,217.52 247.95,216.76 248.97,216.03 250.38,215.33 252.14,214.69 254.23,214.10 256.62,213.59 259.26,213.16 262.11,212.82 265.12,212.57 268.23,212.42 271.40,212.37 274.57,212.42 277.68,212.57 280.69,212.82 283.54,213.16 286.18,213.59 288.57,214.10 290.66,214.69 292.42,215.33 293.83,216.03 294.85,216.76 295.47,217.52 295.68,218.29 295.64,223.52 295.43,222.77 294.81,222.04 293.80,221.33 292.39,220.66 290.63,220.04 288.54,219.48 286.16,218.99 283.52,218.58 280.68,218.25 277.67,218.01 274.56,217.86 271.40,217.81 268.24,217.86 265.13,218.01 262.12,218.25 259.28,218.58 256.64,218.99 254.26,219.48 252.17,220.04 250.41,220.66 249.00,221.33 247.99,222.04 247.37,222.77 247.16,223.52Z" fill="url(#rg2)"/>
<path d="M247.18,437.66 247.38,438.09 248.00,438.51 249.02,438.92 250.42,439.30 252.18,439.66 254.27,439.98 256.65,440.27 259.29,440.51 262.13,440.70 265.13,440.83 268.24,440.92 271.40,440.95 274.56,440.92 277.67,440.83 280.67,440.70 283.51,440.51 286.15,440.27 288.53,439.98 290.62,439.66 292.38,439.30 293.78,438.92 294.80,438.51 295.42,438.09 295.62,437.66 295.64,442.88 295.44,443.34 294.82,443.79 293.80,444.23 292.40,444.64 290.63,445.02 288.54,445.36 286.16,445.66 283.52,445.92 280.68,446.12 277.67,446.27 274.56,446.36 271.40,446.39 268.24,446.36 265.13,446.27 262.12,446.12 259.28,445.92 256.64,445.66 254.26,445.36 252.17,445.02 250.40,444.64 249.00,444.23 247.98,443.79 247.36,443.34 247.16,442.88Z" fill="url(#rg3)"/>
<path d="M247.16,442.88 247.36,443.34 247.98,443.79 249.00,444.23 250.40,444.64 252.17,445.02 254.26,445.36 256.64,445.66 259.28,445.92 262.12,446.12 265.13,446.27 268.24,446.36 271.40,446.39 274.56,446.36 277.67,446.27 280.68,446.12 283.52,445.92 286.16,445.66 288.54,445.36 290.63,445.02 292.40,444.64 293.80,444.23 294.82,443.79 295.44,443.34 295.64,442.88 295.68,448.11 295.48,448.59 294.86,449.07 293.84,449.53 292.43,449.97 290.67,450.37 288.57,450.74 286.18,451.06 283.54,451.33 280.69,451.55 277.69,451.70 274.57,451.80 271.40,451.83 268.23,451.80 265.11,451.70 262.11,451.55 259.26,451.33 256.62,451.06 254.23,450.74 252.13,450.37 250.37,449.97 248.96,449.53 247.94,449.07 247.32,448.59 247.12,448.11Z" fill="#10f0a0"/>
<path d="M247.12,448.11 247.32,448.59 247.94,449.07 248.96,449.53 250.37,449.97 252.13,450.37 254.23,450.74 256.62,451.06 259.26,451.33 262.11,451.55 265.11,451.70 268.23,451.80 271.40,451.83 274.57,451.80 277.69,451.70 280.69,451.55 283.54,451.33 286.18,451.06 288.57,450.74 290.67,450.37 292.43,449.97 293.84,449.53 294.86,449.07 295.48,448.59 295.68,448.11 295.76,453.33 295.55,453.85 294.93,454.35 293.91,454.84 292.50,455.30 290.73,455.73 288.63,456.12 286.23,456.46 283.58,456.74 280.72,456.97 277.71,457.14 274.58,457.24 271.40,457.27 268.22,457.24 265.09,457.14 262.08,456.97 259.22,456.74 256.57,456.46 254.17,456.12 252.07,455.73 250.30,455.30 248.89,454.84 247.87,454.35 247.25,453.85 247.04,453.33Z" fill="#10f0a0"/>
<path d="M247.04,453.33 247.25,453.85 247.87,454.35 248.89,454.84 250.30,455.30 252.07,455.73 254.17,456.12 256.57,456.46 259.22,456.74 262.08,456.97 265.09,457.14 268.22,457.24 271.40,457.27 274.58,457.24 277.71,457.14 280.72,456.97 283.58,456.74 286.23,456.46 288.63,456.12 290.73,455.73 292.50,455.30 293.91,454.84 294.93,454.35 295.55,453.85 295.76,453.33 295.91,458.55 295.70,459.10 295.07,459.63 294.04,460.15 292.62,460.63 290.84,461.09 288.73,461.50 286.32,461.86 283.65,462.16 280.78,462.40 277.74,462.57 274.60,462.68 271.40,462.72 268.20,462.68 265.06,462.57 262.02,462.40 259.15,462.16 256.48,461.86 254.07,461.50 251.96,461.09 250.18,460.63 248.76,460.15 247.73,459.63 247.10,459.10 246.89,458.55Z" fill="#40f030"/>
<path d="M246.89,458.55 247.10,459.10 247.73,459.63 248.76,460.15 250.18,460.63 251.96,461.09 254.07,461.50 256.48,461.86 259.15,462.16 262.02,462.40 265.06,462.57 268.20,462.68 271.40,462.72 274.60,462.68 277.74,462.57 280.78,462.40 283.65,462.16 286.32,461.86 288.73,461.50 290.84,461.09 292.62,460.63 294.04,460.15 295.07,459.63 295.70,459.10 295.91,458.55 296.18,463.78 295.97,464.35 295.34,464.91 294.29,465.45 292.86,465.97 291.06,466.44 288.92,466.87 286.48,467.25 283.79,467.57 280.88,467.82 277.81,468.01 274.63,468.12 271.40,468.16 268.17,468.12 264.99,468.01 261.92,467.82 259.01,467.57 256.32,467.25 253.88,466.87 251.74,466.44 249.94,465.97 248.51,465.45 247.46,464.91 246.83,464.35 246.62,463.78Z" fill="url(#rg4)"/>
<path d="M246.62,463.78 246.83,464.35 247.46,464.91 248.51,465.45 249.94,465.97 251.74,466.44 253.88,466.87 256.32,467.25 259.01,467.57 261.92,467.82 264.99,468.01 268.17,468.12 271.40,468.16 274.63,468.12 277.81,468.01 280.88,467.82 283.79,467.57 286.48,467.25 288.92,466.87 291.06,466.44 292.86,465.97 294.29,465.45 295.34,464.91 295.97,464.35 296.18,463.78 296.70,472.00 296.48,472.60 295.84,473.19 294.77,473.76 293.31,474.30 291.47,474.80 289.29,475.25 286.80,475.65 284.05,475.98 281.08,476.25 277.95,476.44 274.70,476.56 271.40,476.60 268.10,476.56 264.85,476.44 261.72,476.25 258.75,475.98 256.00,475.65 253.51,475.25 251.33,474.80 249.49,474.30 248.03,473.76 246.96,473.19 246.32,472.60 246.10,472.00Z" fill="url(#rg5)"/>
<g fill="none" stroke="#003000" stroke-opacity="0.68" stroke-width="0.7">
<polyline points="246.67,202.62 246.88,201.76 247.52,200.92 248.56,200.10 249.99,199.33 251.78,198.62 253.92,197.97 256.35,197.40 259.04,196.92 261.94,196.54 265.00,196.27 268.17,196.10 271.40,196.04 274.63,196.10 277.80,196.27 280.86,196.54 283.76,196.92 286.45,197.40 288.88,197.97 291.02,198.62 292.81,199.33 294.24,200.10 295.28,200.92 295.92,201.76 296.13,202.62"/>
<polyline points="246.92,207.85 247.13,207.02 247.76,206.20 248.79,205.41 250.20,204.67 251.98,203.97 254.09,203.35 256.50,202.80 259.16,202.34 262.03,201.97 265.06,201.70 268.21,201.54 271.40,201.48 274.59,201.54 277.74,201.70 280.77,201.97 283.64,202.34 286.30,202.80 288.71,203.35 290.82,203.97 292.60,204.67 294.01,205.41 295.04,206.20 295.67,207.02 295.88,207.85"/>
<polyline points="247.05,213.07 247.26,212.27 247.88,211.48 248.91,210.72 250.32,210.00 252.08,209.33 254.18,208.73 256.58,208.20 259.23,207.75 262.08,207.39 265.10,207.14 268.22,206.98 271.40,206.93 274.58,206.98 277.70,207.14 280.72,207.39 283.57,207.75 286.22,208.20 288.62,208.73 290.72,209.33 292.48,210.00 293.89,210.72 294.92,211.48 295.54,212.27 295.75,213.07"/>
<polyline points="247.12,218.29 247.33,217.52 247.95,216.76 248.97,216.03 250.38,215.33 252.14,214.69 254.23,214.10 256.62,213.59 259.26,213.16 262.11,212.82 265.12,212.57 268.23,212.42 271.40,212.37 274.57,212.42 277.68,212.57 280.69,212.82 283.54,213.16 286.18,213.59 288.57,214.10 290.66,214.69 292.42,215.33 293.83,216.03 294.85,216.76 295.47,217.52 295.68,218.29"/>
<polyline points="247.16,223.52 247.37,222.77 247.99,222.04 249.00,221.33 250.41,220.66 252.17,220.04 254.26,219.48 256.64,218.99 259.28,218.58 262.12,218.25 265.13,218.01 268.24,217.86 271.40,217.81 274.56,217.86 277.67,218.01 280.68,218.25 283.52,218.58 286.16,218.99 288.54,219.48 290.63,220.04 292.39,220.66 293.80,221.33 294.81,222.04 295.43,222.77 295.64,223.52"/>
<polyline points="247.18,228.74 247.39,228.02 248.00,227.32 249.02,226.64 250.42,226.00 252.18,225.40 254.27,224.86 256.65,224.39 259.29,223.99 262.13,223.67 265.13,223.44 268.24,223.30 271.40,223.25 274.56,223.30 277.67,223.44 280.67,223.67 283.51,223.99 286.15,224.39 288.53,224.86 290.62,225.40 292.38,226.00 293.78,226.64 294.80,227.32 295.41,228.02 295.62,228.74"/>
<polyline points="247.19,233.96 247.40,233.27 248.01,232.60 249.03,231.95 250.43,231.33 252.19,230.76 254.28,230.24 256.66,229.78 259.29,229.40 262.13,229.10 265.13,228.88 268.24,228.74 271.40,228.70 274.56,228.74 277.67,228.88 280.67,229.10 283.51,229.40 286.14,229.78 288.52,230.24 290.61,230.76 292.37,231.33 293.77,231.95 294.79,232.60 295.40,233.27 295.61,233.96"/>
<polyline points="247.19,239.18 247.40,238.53 248.02,237.88 249.04,237.25 250.44,236.66 252.20,236.11 254.28,235.62 256.66,235.18 259.30,234.81 262.14,234.52 265.14,234.31 268.24,234.18 271.40,234.14 274.56,234.18 277.66,234.31 280.66,234.52 283.50,234.81 286.14,235.18 288.52,235.62 290.60,236.11 292.36,236.66 293.76,237.25 294.78,237.88 295.40,238.53 295.61,239.18"/>
<polyline points="247.20,244.41 247.40,243.78 248.02,243.16 249.04,242.56 250.44,241.99 252.20,241.47 254.29,240.99 256.67,240.58 259.30,240.23 262.14,239.95 265.14,239.75 268.24,239.62 271.40,239.58 274.56,239.62 277.66,239.75 280.66,239.95 283.50,240.23 286.13,240.58 288.51,240.99 290.60,241.47 292.36,241.99 293.76,242.56 294.78,243.16 295.40,243.78 295.60,244.41"/>
<polyline points="247.20,249.63 247.41,249.03 248.02,248.44 249.04,247.87 250.44,247.33 252.20,246.83 254.29,246.37 256.67,245.98 259.30,245.64 262.14,245.37 265.14,245.18 268.24,245.06 271.40,245.02 274.56,245.06 277.66,245.18 280.66,245.37 283.50,245.64 286.13,245.98 288.51,246.37 290.60,246.83 292.36,247.33 293.76,247.87 294.78,248.44 295.39,249.03 295.60,249.63"/>
<polyline points="247.20,254.85 247.41,254.28 248.02,253.72 249.04,253.17 250.44,252.66 252.20,252.18 254.29,251.75 256.67,251.37 259.30,251.05 262.14,250.80 265.14,250.61 268.24,250.50 271.40,250.47 274.56,250.50 277.66,250.61 280.66,250.80 283.50,251.05 286.13,251.37 288.51,251.75 290.60,252.18 292.36,252.66 293.76,253.17 294.78,253.72 295.39,254.28 295.60,254.85"/>
<polyline points="247.20,260.08 247.41,259.53 248.02,259.00 249.04,258.48 250.44,257.99 252.20,257.54 254.29,257.13 256.67,256.77 259.30,256.47 262.14,256.23 265.14,256.05 268.24,255.94 271.40,255.91 274.56,255.94 277.66,256.05 280.66,256.23 283.50,256.47 286.13,256.77 288.51,257.13 290.60,257.54 292.36,257.99 293.76,258.48 294.78,259.00 295.39,259.53 295.60,260.08"/>
<polyline points="247.20,265.30 247.41,264.78 248.02,264.28 249.04,263.79 250.44,263.32 252.20,262.90 254.29,262.51 256.67,262.17 259.30,261.88 262.14,261.65 265.14,261.48 268.24,261.38 271.40,261.35 274.56,261.38 277.66,261.48 280.66,261.65 283.50,261.88 286.13,262.17 288.51,262.51 290.60,262.90 292.36,263.32 293.76,263.79 294.78,264.28 295.39,264.78 295.60,265.30"/>
<polyline points="247.20,270.52 247.41,270.04 248.02,269.56 249.04,269.10 250.44,268.66 252.20,268.25 254.29,267.89 256.67,267.56 259.30,267.29 262.14,267.08 265.14,266.92 268.24,266.82 271.40,266.79 274.56,266.82 277.66,266.92 280.66,267.08 283.50,267.29 286.13,267.56 288.51,267.89 290.60,268.25 292.36,268.66 293.76,269.10 294.78,269.56 295.39,270.04 295.60,270.52"/>
<polyline points="247.20,275.75 247.41,275.29 248.02,274.84 249.04,274.40 250.44,273.99 252.20,273.61 254.29,273.26 256.67,272.96 259.30,272.71 262.14,272.50 265.14,272.35 268.24,272.26 271.40,272.23 274.56,272.26 277.66,272.35 280.66,272.50 283.50,272.71 286.13,272.96 288.51,273.26 290.60,273.61 292.36,273.99 293.76,274.40 294.78,274.84 295.39,275.29 295.60,275.75"/>
<polyline points="247.20,280.97 247.41,280.54 248.02,280.12 249.04,279.71 250.44,279.32 252.20,278.97 254.29,278.64 256.67,278.36 259.30,278.12 262.14,277.93 265.14,277.79 268.24,277.71 271.40,277.68 274.56,277.71 277.66,277.79 280.66,277.93 283.50,278.12 286.13,278.36 288.51,278.64 290.60,278.97 292.36,279.32 293.76,279.71 294.78,280.12 295.39,280.54 295.60,280.97"/>
<polyline points="247.20,286.19 247.41,285.79 248.02,285.40 249.04,285.02 250.44,284.66 252.20,284.32 254.29,284.02 256.67,283.75 259.30,283.53 262.14,283.35 265.14,283.22 268.24,283.15 271.40,283.12 274.56,283.15 277.66,283.22 280.66,283.35 283.50,283.53 286.13,283.75 288.51,284.02 290.60,284.32 292.36,284.66 293.76,285.02 294.78,285.40 295.39,285.79 295.60,286.19"/>
<polyline points="247.20,291.42 247.41,291.04 248.02,290.68 249.04,290.32 250.44,289.99 252.20,289.68 254.29,289.40 256.67,289.15 259.30,288.94 262.14,288.78 265.14,288.66 268.24,288.59 271.40,288.56 274.56,288.59 277.66,288.66 280.66,288.78 283.50,288.94 286.13,289.15 288.51,289.40 290.60,289.68 292.36,289.99 293.76,290.32 294.78,290.68 295.39,291.04 295.60,291.42"/>
<polyline points="247.20,296.64 247.41,296.29 248.02,295.96 249.04,295.63 250.44,295.32 252.20,295.03 254.29,294.78 256.67,294.55 259.30,294.36 262.14,294.20 265.14,294.09 268.24,294.03 271.40,294.00 274.56,294.03 277.66,294.09 280.66,294.20 283.50,294.36 286.13,294.55 288.51,294.78 290.60,295.03 292.36,295.32 293.76,295.63 294.78,295.96 295.39,296.29 295.60,296.64"/>
<polyline points="247.20,301.86 247.41,301.55 248.02,301.24 249.04,300.94 250.44,300.65 252.20,300.39 254.29,300.15 256.67,299.95 259.30,299.77 262.14,299.63 265.14,299.53 268.24,299.47 271.40,299.45 274.56,299.47 277.66,299.53 280.66,299.63 283.50,299.77 286.13,299.95 288.51,300.15 290.60,300.39 292.36,300.65 293.76,300.94 294.78,301.24 295.39,301.55 295.60,301.86"/>
<polyline points="247.20,307.08 247.41,306.80 248.02,306.52 249.04,306.24 250.44,305.99 252.20,305.75 254.29,305.53 256.67,305.34 259.30,305.18 262.14,305.06 265.14,304.96 268.24,304.91 271.40,304.89 274.56,304.91 277.66,304.96 280.66,305.06 283.50,305.18 286.13,305.34 288.51,305.53 290.60,305.75 292.36,305.99 293.76,306.24 294.78,306.52 295.39,306.80 295.60,307.08"/>
<polyline points="247.20,312.31 247.41,312.05 248.02,311.80 249.04,311.55 250.44,311.32 252.20,311.10 254.29,310.91 256.67,310.74 259.30,310.60 262.14,310.48 265.14,310.40 268.24,310.35 271.40,310.33 274.56,310.35 277.66,310.40 280.66,310.48 283.50,310.60 286.13,310.74 288.51,310.91 290.60,311.10 292.36,311.32 293.76,311.55 294.78,311.80 295.39,312.05 295.60,312.31"/>
<polyline points="247.20,317.53 247.41,317.30 248.02,317.08 249.04,316.86 250.44,316.65 252.20,316.46 254.29,316.29 256.67,316.14 259.30,316.01 262.14,315.91 265.14,315.83 268.24,315.79 271.40,315.77 274.56,315.79 277.66,315.83 280.66,315.91 283.50,316.01 286.13,316.14 288.51,316.29 290.60,316.46 292.36,316.65 293.76,316.86 294.78,317.08 295.39,317.30 295.60,317.53"/>
<polyline points="247.20,322.75 247.41,322.55 248.02,322.36 249.04,322.17 250.44,321.98 252.20,321.82 254.29,321.67 256.67,321.53 259.30,321.42 262.14,321.33 265.14,321.27 268.24,321.23 271.40,321.22 274.56,321.23 277.66,321.27 280.66,321.33 283.50,321.42 286.13,321.53 288.51,321.67 290.60,321.82 292.36,321.98 293.76,322.17 294.78,322.36 295.39,322.55 295.60,322.75"/>
<polyline points="247.20,327.98 247.41,327.80 248.02,327.64 249.04,327.47 250.44,327.32 252.20,327.17 254.29,327.04 256.67,326.93 259.30,326.83 262.14,326.76 265.14,326.70 268.24,326.67 271.40,326.66 274.56,326.67 277.66,326.70 280.66,326.76 283.50,326.83 286.13,326.93 288.51,327.04 290.60,327.17 292.36,327.32 293.76,327.47 294.78,327.64 295.39,327.80 295.60,327.98"/>
<polyline points="247.20,333.20 247.41,333.06 248.02,332.92 249.04,332.78 250.44,332.65 252.20,332.53 254.29,332.42 256.67,332.33 259.30,332.25 262.14,332.18 265.14,332.14 268.24,332.11 271.40,332.10 274.56,332.11 277.66,332.14 280.66,332.18 283.50,332.25 286.13,332.33 288.51,332.42 290.60,332.53 292.36,332.65 293.76,332.78 294.78,332.92 295.39,333.06 295.60,333.20"/>
<polyline points="247.20,338.42 247.41,338.31 248.02,338.20 249.04,338.09 250.44,337.98 252.20,337.89 254.29,337.80 256.67,337.72 259.30,337.66 262.14,337.61 265.14,337.57 268.24,337.55 271.40,337.54 274.56,337.55 277.66,337.57 280.66,337.61 283.50,337.66 286.13,337.72 288.51,337.80 290.60,337.89 292.36,337.98 293.76,338.09 294.78,338.20 295.39,338.31 295.60,338.42"/>
<polyline points="247.20,343.65 247.41,343.56 248.02,343.47 249.04,343.39 250.44,343.32 252.20,343.24 254.29,343.18 256.67,343.12 259.30,343.07 262.14,343.03 265.14,343.01 268.24,342.99 271.40,342.98 274.56,342.99 277.66,343.01 280.66,343.03 283.50,343.07 286.13,343.12 288.51,343.18 290.60,343.24 292.36,343.32 293.76,343.39 294.78,343.47 295.39,343.56 295.60,343.65"/>
<polyline points="247.20,348.87 247.41,348.81 248.02,348.75 249.04,348.70 250.44,348.65 252.20,348.60 254.29,348.56 256.67,348.52 259.30,348.49 262.14,348.46 265.14,348.44 268.24,348.43 271.40,348.43 274.56,348.43 277.66,348.44 280.66,348.46 283.50,348.49 286.13,348.52 288.51,348.56 290.60,348.60 292.36,348.65 293.76,348.70 294.78,348.75 295.39,348.81 295.60,348.87"/>
<polyline points="247.20,354.09 247.41,354.06 248.02,354.03 249.04,354.01 250.44,353.98 252.20,353.96 254.29,353.93 256.67,353.92 259.30,353.90 262.14,353.89 265.14,353.88 268.24,353.87 271.40,353.87 274.56,353.87 277.66,353.88 280.66,353.89 283.50,353.90 286.13,353.92 288.51,353.93 290.60,353.96 292.36,353.98 293.76,354.01 294.78,354.03 295.39,354.06 295.60,354.09"/>
<polyline points="247.20,359.32 247.41,359.31 248.02,359.31 249.04,359.31 250.44,359.31 252.20,359.31 254.29,359.31 256.67,359.31 259.30,359.31 262.14,359.31 265.14,359.31 268.24,359.31 271.40,359.31 274.56,359.31 277.66,359.31 280.66,359.31 283.50,359.31 286.13,359.31 288.51,359.31 290.60,359.31 292.36,359.31 293.76,359.31 294.78,359.31 295.39,359.31 295.60,359.32"/>
<polyline points="247.20,364.54 247.41,364.57 248.02,364.59 249.04,364.62 250.44,364.65 252.20,364.67 254.29,364.69 256.67,364.71 259.30,364.72 262.14,364.74 265.14,364.75 268.24,364.75 271.40,364.75 274.56,364.75 277.66,364.75 280.66,364.74 283.50,364.72 286.13,364.71 288.51,364.69 290.60,364.67 292.36,364.65 293.76,364.62 294.78,364.59 295.39,364.57 295.60,364.54"/>
<polyline points="247.20,369.76 247.41,369.82 248.02,369.87 249.04,369.93 250.44,369.98 252.20,370.03 254.29,370.07 256.67,370.11 259.30,370.14 262.14,370.16 265.14,370.18 268.24,370.19 271.40,370.20 274.56,370.19 277.66,370.18 280.66,370.16 283.50,370.14 286.13,370.11 288.51,370.07 290.60,370.03 292.36,369.98 293.76,369.93 294.78,369.87 295.39,369.82 295.60,369.76"/>
<polyline points="247.20,374.98 247.41,375.07 248.02,375.15 249.04,375.23 250.44,375.31 252.20,375.38 254.29,375.45 256.67,375.50 259.30,375.55 262.14,375.59 265.14,375.62 268.24,375.63 271.40,375.64 274.56,375.63 277.66,375.62 280.66,375.59 283.50,375.55 286.13,375.50 288.51,375.45 290.60,375.38 292.36,375.31 293.76,375.23 294.78,375.15 295.39,375.07 295.60,374.98"/>
<polyline points="247.20,380.21 247.41,380.32 248.02,380.43 249.04,380.54 250.44,380.64 252.20,380.74 254.29,380.83 256.67,380.90 259.30,380.96 262.14,381.01 265.14,381.05 268.24,381.07 271.40,381.08 274.56,381.07 277.66,381.05 280.66,381.01 283.50,380.96 286.13,380.90 288.51,380.83 290.60,380.74 292.36,380.64 293.76,380.54 294.78,380.43 295.39,380.32 295.60,380.21"/>
<polyline points="247.20,385.43 247.41,385.57 248.02,385.71 249.04,385.85 250.44,385.98 252.20,386.10 254.29,386.20 256.67,386.30 259.30,386.38 262.14,386.44 265.14,386.49 268.24,386.51 271.40,386.52 274.56,386.51 277.66,386.49 280.66,386.44 283.50,386.38 286.13,386.30 288.51,386.20 290.60,386.10 292.36,385.98 293.76,385.85 294.78,385.71 295.39,385.57 295.60,385.43"/>
<polyline points="247.20,390.65 247.41,390.83 248.02,390.99 249.04,391.16 250.44,391.31 252.20,391.45 254.29,391.58 256.67,391.69 259.30,391.79 262.14,391.87 265.14,391.92 268.24,391.95 271.40,391.97 274.56,391.95 277.66,391.92 280.66,391.87 283.50,391.79 286.13,391.69 288.51,391.58 290.60,391.45 292.36,391.31 293.76,391.16 294.78,390.99 295.39,390.83 295.60,390.65"/>
<polyline points="247.20,395.88 247.41,396.08 248.02,396.27 249.04,396.46 250.44,396.64 252.20,396.81 254.29,396.96 256.67,397.09 259.30,397.20 262.14,397.29 265.14,397.36 268.24,397.39 271.40,397.41 274.56,397.39 277.66,397.36 280.66,397.29 283.50,397.20 286.13,397.09 288.51,396.96 290.60,396.81 292.36,396.64 293.76,396.46 294.78,396.27 295.39,396.08 295.60,395.88"/>
<polyline points="247.20,401.10 247.41,401.33 248.02,401.55 249.04,401.77 250.44,401.98 252.20,402.17 254.29,402.34 256.67,402.49 259.30,402.62 262.14,402.72 265.14,402.79 268.24,402.84 271.40,402.85 274.56,402.84 277.66,402.79 280.66,402.72 283.50,402.62 286.13,402.49 288.51,402.34 290.60,402.17 292.36,401.98 293.76,401.77 294.78,401.55 295.39,401.33 295.60,401.10"/>
<polyline points="247.20,406.32 247.41,406.58 248.02,406.83 249.04,407.08 250.44,407.31 252.20,407.52 254.29,407.72 256.67,407.89 259.30,408.03 262.14,408.14 265.14,408.23 268.24,408.28 271.40,408.29 274.56,408.28 277.66,408.23 280.66,408.14 283.50,408.03 286.13,407.89 288.51,407.72 290.60,407.52 292.36,407.31 293.76,407.08 294.78,406.83 295.39,406.58 295.60,406.32"/>
<polyline points="247.20,411.55 247.41,411.83 248.02,412.11 249.04,412.38 250.44,412.64 252.20,412.88 254.29,413.09 256.67,413.28 259.30,413.44 262.14,413.57 265.14,413.66 268.24,413.72 271.40,413.73 274.56,413.72 277.66,413.66 280.66,413.57 283.50,413.44 286.13,413.28 288.51,413.09 290.60,412.88 292.36,412.64 293.76,412.38 294.78,412.11 295.39,411.83 295.60,411.55"/>
<polyline points="247.20,416.77 247.41,417.08 248.02,417.39 249.04,417.69 250.44,417.97 252.20,418.23 254.29,418.47 256.67,418.68 259.30,418.85 262.14,418.99 265.14,419.09 268.24,419.16 271.40,419.18 274.56,419.16 277.66,419.09 280.66,418.99 283.50,418.85 286.13,418.68 288.51,418.47 290.60,418.23 292.36,417.97 293.76,417.69 294.78,417.39 295.39,417.08 295.60,416.77"/>
<polyline points="247.20,421.99 247.40,422.34 248.02,422.67 249.04,423.00 250.44,423.31 252.20,423.59 254.29,423.85 256.67,424.08 259.30,424.27 262.14,424.42 265.14,424.53 268.24,424.60 271.40,424.62 274.56,424.60 277.66,424.53 280.66,424.42 283.50,424.27 286.13,424.08 288.51,423.85 290.60,423.59 292.36,423.31 293.76,423.00 294.78,422.67 295.40,422.34 295.60,421.99"/>
<polyline points="247.19,427.22 247.40,427.59 248.02,427.95 249.04,428.30 250.44,428.64 252.20,428.95 254.28,429.23 256.66,429.47 259.30,429.68 262.14,429.84 265.13,429.96 268.24,430.04 271.40,430.06 274.56,430.04 277.67,429.96 280.66,429.84 283.50,429.68 286.14,429.47 288.52,429.23 290.60,428.95 292.36,428.64 293.76,428.30 294.78,427.95 295.40,427.59 295.61,427.22"/>
<polyline points="247.19,432.44 247.39,432.84 248.01,433.23 249.03,433.61 250.43,433.97 252.19,434.30 254.28,434.61 256.66,434.87 259.29,435.09 262.13,435.27 265.13,435.40 268.24,435.48 271.40,435.50 274.56,435.48 277.67,435.40 280.67,435.27 283.51,435.09 286.14,434.87 288.52,434.61 290.61,434.30 292.37,433.97 293.77,433.61 294.79,433.23 295.41,432.84 295.61,432.44"/>
<polyline points="247.18,437.66 247.38,438.09 248.00,438.51 249.02,438.92 250.42,439.30 252.18,439.66 254.27,439.98 256.65,440.27 259.29,440.51 262.13,440.70 265.13,440.83 268.24,440.92 271.40,440.95 274.56,440.92 277.67,440.83 280.67,440.70 283.51,440.51 286.15,440.27 288.53,439.98 290.62,439.66 292.38,439.30 293.78,438.92 294.80,438.51 295.42,438.09 295.62,437.66"/>
<polyline points="247.16,442.88 247.36,443.34 247.98,443.79 249.00,444.23 250.40,444.64 252.17,445.02 254.26,445.36 256.64,445.66 259.28,445.92 262.12,446.12 265.13,446.27 268.24,446.36 271.40,446.39 274.56,446.36 277.67,446.27 280.68,446.12 283.52,445.92 286.16,445.66 288.54,445.36 290.63,445.02 292.40,444.64 293.80,444.23 294.82,443.79 295.44,443.34 295.64,442.88"/>
<polyline points="247.12,448.11 247.32,448.59 247.94,449.07 248.96,449.53 250.37,449.97 252.13,450.37 254.23,450.74 256.62,451.06 259.26,451.33 262.11,451.55 265.11,451.70 268.23,451.80 271.40,451.83 274.57,451.80 277.69,451.70 280.69,451.55 283.54,451.33 286.18,451.06 288.57,450.74 290.67,450.37 292.43,449.97 293.84,449.53 294.86,449.07 295.48,448.59 295.68,448.11"/>
<polyline points="247.04,453.33 247.25,453.85 247.87,454.35 248.89,454.84 250.30,455.30 252.07,455.73 254.17,456.12 256.57,456.46 259.22,456.74 262.08,456.97 265.09,457.14 268.22,457.24 271.40,457.27 274.58,457.24 277.71,457.14 280.72,456.97 283.58,456.74 286.23,456.46 288.63,456.12 290.73,455.73 292.50,455.30 293.91,454.84 294.93,454.35 295.55,453.85 295.76,453.33"/>
<polyline points="246.89,458.55 247.10,459.10 247.73,459.63 248.76,460.15 250.18,460.63 251.96,461.09 254.07,461.50 256.48,461.86 259.15,462.16 262.02,462.40 265.06,462.57 268.20,462.68 271.40,462.72 274.60,462.68 277.74,462.57 280.78,462.40 283.65,462.16 286.32,461.86 288.73,461.50 290.84,461.09 292.62,460.63 294.04,460.15 295.07,459.63 295.70,459.10 295.91,458.55"/>
<polyline points="246.62,463.78 246.83,464.35 247.46,464.91 248.51,465.45 249.94,465.97 251.74,466.44 253.88,466.87 256.32,467.25 259.01,467.57 261.92,467.82 264.99,468.01 268.17,468.12 271.40,468.16 274.63,468.12 277.81,468.01 280.88,467.82 283.79,467.57 286.48,467.25 288.92,466.87 291.06,466.44 292.86,465.97 294.29,465.45 295.34,464.91 295.97,464.35 296.18,463.78"/>
<polyline points="246.21,197.24 247.19,231.22 247.21,265.21 247.21,299.19 247.21,333.17 247.21,367.16 247.21,401.14 247.19,435.12 246.11,469.11"/>
<polyline points="246.46,196.43 247.43,230.59 247.45,264.74 247.45,298.89 247.45,333.04 247.45,367.20 247.45,401.35 247.43,435.50 246.36,469.65"/>
<polyline points="247.06,195.64 248.01,229.96 248.02,264.28 248.02,298.60 248.02,332.92 248.02,367.23 248.02,401.55 248.01,435.87 246.96,470.19"/>
<polyline points="248.00,194.87 248.92,229.35 248.93,263.83 248.93,298.31 248.93,332.79 248.93,367.27 248.93,401.75 248.92,436.23 247.91,470.71"/>
<polyline points="249.28,194.14 250.14,228.77 250.16,263.41 250.16,298.04 250.16,332.67 250.16,367.31 250.16,401.94 250.14,436.57 249.19,471.20"/>
<polyline points="250.87,193.46 251.67,228.23 251.69,263.01 251.69,297.79 251.69,332.56 251.69,367.34 251.68,402.11 251.67,436.89 250.79,471.67"/>
<polyline points="252.75,192.83 253.48,227.73 253.49,262.64 253.49,297.55 253.49,332.46 253.49,367.37 253.49,402.28 253.48,437.19 252.68,472.09"/>
<polyline points="254.90,192.26 255.54,227.29 255.55,262.32 255.55,297.34 255.55,332.37 255.55,367.40 255.55,402.42 255.54,437.45 254.83,472.48"/>
<polyline points="257.27,191.77 257.83,226.90 257.83,262.03 257.83,297.16 257.83,332.29 257.83,367.42 257.83,402.55 257.82,437.68 257.22,472.81"/>
<polyline points="259.85,191.36 260.30,226.57 260.31,261.79 260.31,297.01 260.31,332.22 260.31,367.44 260.31,402.66 260.30,437.87 259.81,473.09"/>
<polyline points="262.59,191.03 262.94,226.31 262.94,261.60 262.94,296.88 262.94,332.17 262.94,367.45 262.94,402.74 262.94,438.02 262.56,473.31"/>
<polyline points="265.46,190.79 265.69,226.13 265.69,261.46 265.69,296.80 265.69,332.13 265.69,367.47 265.69,402.80 265.69,438.14 265.43,473.47"/>
<polyline points="268.41,190.65 268.52,226.01 268.53,261.38 268.53,296.74 268.53,332.11 268.53,367.47 268.53,402.84 268.52,438.20 268.40,473.57"/>
<polyline points="271.40,190.60 271.40,225.98 271.40,261.35 271.40,296.73 271.40,332.10 271.40,367.47 271.40,402.85 271.40,438.23 271.40,473.60"/>
<polyline points="274.39,190.65 274.28,226.01 274.27,261.38 274.27,296.74 274.27,332.11 274.27,367.47 274.27,402.84 274.28,438.20 274.40,473.57"/>
<polyline points="277.34,190.79 277.11,226.13 277.11,261.46 277.11,296.80 277.11,332.13 277.11,367.47 277.11,402.80 277.11,438.14 277.37,473.47"/>
<polyline points="280.21,191.03 279.86,226.31 279.86,261.60 279.86,296.88 279.86,332.17 279.86,367.45 279.86,402.74 279.86,438.02 280.24,473.31"/>
<polyline points="282.95,191.36 282.50,226.57 282.49,261.79 282.49,297.01 282.49,332.22 282.49,367.44 282.49,402.66 282.50,437.87 282.99,473.09"/>
<polyline points="285.53,191.77 284.97,226.90 284.97,262.03 284.97,297.16 284.97,332.29 284.97,367.42 284.97,402.55 284.98,437.68 285.58,472.81"/>
<polyline points="287.90,192.26 287.26,227.29 287.25,262.32 287.25,297.34 287.25,332.37 287.25,367.40 287.25,402.42 287.26,437.45 287.97,472.48"/>
<polyline points="290.05,192.83 289.32,227.73 289.31,262.64 289.31,297.55 289.31,332.46 289.31,367.37 289.31,402.28 289.32,437.19 290.12,472.09"/>
<polyline points="291.93,193.46 291.13,228.23 291.11,263.01 291.11,297.79 291.11,332.56 291.11,367.34 291.12,402.11 291.13,436.89 292.01,471.67"/>
<polyline points="293.52,194.14 292.66,228.77 292.64,263.41 292.64,298.04 292.64,332.67 292.64,367.31 292.64,401.94 292.66,436.57 293.61,471.20"/>
<polyline points="294.80,194.87 293.88,229.35 293.87,263.83 293.87,298.31 293.87,332.79 293.87,367.27 293.87,401.75 293.88,436.23 294.89,470.71"/>
<polyline points="295.74,195.64 294.79,229.96 294.78,264.28 294.78,298.60 294.78,332.92 294.78,367.23 294.78,401.55 294.79,435.87 295.84,470.19"/>
<polyline points="296.34,196.43 295.37,230.59 295.35,264.74 295.35,298.89 295.35,333.04 295.35,367.20 295.35,401.35 295.37,435.50 296.44,469.65"/>
<polyline points="296.59,197.24 295.61,231.22 295.59,265.21 295.59,299.19 295.59,333.17 295.59,367.16 295.59,401.14 295.61,435.12 296.69,469.11"/>
</g></g>
<path d="M246.20,197.40 246.42,196.51 247.06,195.64 248.12,194.80 249.58,194.00 251.41,193.26 253.58,192.59 256.06,192.01 258.80,191.51 261.76,191.12 264.88,190.83 268.11,190.66 271.40,190.60 274.69,190.66 277.92,190.83 281.04,191.12 284.00,191.51 286.74,192.01 289.22,192.59 291.39,193.26 293.22,194.00 294.68,194.80 295.74,195.64 296.38,196.51 296.60,197.40 296.60,197.40 296.03,204.19 295.79,210.98 295.68,217.77 295.64,224.56 295.62,231.35 295.61,238.14 295.60,244.93 295.60,251.72 295.60,258.51 295.60,265.30 295.60,272.09 295.60,278.88 295.60,285.67 295.60,292.46 295.60,299.25 295.60,306.04 295.60,312.83 295.60,319.62 295.60,326.41 295.60,333.20 295.60,339.99 295.60,346.78 295.60,353.57 295.60,360.36 295.60,367.15 295.60,373.94 295.60,380.73 295.60,387.52 295.60,394.31 295.60,401.10 295.60,407.89 295.60,414.68 295.60,421.47 295.61,428.26 295.62,435.05 295.64,441.84 295.69,448.63 295.81,455.42 296.08,462.21 296.70,469.00 296.70,469.00 296.48,469.60 295.84,470.19 294.77,470.76 293.31,471.30 291.47,471.80 289.29,472.25 286.80,472.65 284.05,472.98 281.08,473.25 277.95,473.44 274.70,473.56 271.40,473.60 268.10,473.56 264.85,473.44 261.72,473.25 258.75,472.98 256.00,472.65 253.51,472.25 251.33,471.80 249.49,471.30 248.03,470.76 246.96,470.19 246.32,469.60 246.10,469.00 246.10,469.00 246.72,462.21 246.99,455.42 247.11,448.63 247.16,441.84 247.18,435.05 247.19,428.26 247.20,421.47 247.20,414.68 247.20,407.89 247.20,401.10 247.20,394.31 247.20,387.52 247.20,380.73 247.20,373.94 247.20,367.15 247.20,360.36 247.20,353.57 247.20,346.78 247.20,339.99 247.20,333.20 247.20,326.41 247.20,319.62 247.20,312.83 247.20,306.04 247.20,299.25 247.20,292.46 247.20,285.67 247.20,278.88 247.20,272.09 247.20,265.30 247.20,258.51 247.20,251.72 247.20,244.93 247.19,238.14 247.18,231.35 247.16,224.56 247.12,217.77 247.01,210.98 246.77,204.19 246.20,197.40Z" fill="none" stroke="#333" stroke-width="0.8"/>
<clipPath id="cy2"><path d="M369.70,197.40 369.92,196.51 370.56,195.64 371.62,194.80 373.08,194.00 374.91,193.26 377.08,192.59 379.56,192.01 382.30,191.51 385.26,191.12 388.38,190.83 391.61,190.66 394.90,190.60 398.19,190.66 401.42,190.83 404.54,191.12 407.50,191.51 410.24,192.01 412.72,192.59 414.89,193.26 416.72,194.00 418.18,194.80 419.24,195.64 419.88,196.51 420.10,197.40 420.10,197.40 419.53,204.19 419.29,210.98 419.18,217.77 419.14,224.56 419.12,231.35 419.11,238.14 419.10,244.93 419.10,251.72 419.10,258.51 419.10,265.30 419.10,272.09 419.10,278.88 419.10,285.67 419.10,292.46 419.10,299.25 419.10,306.04 419.10,312.83 419.10,319.62 419.10,326.41 419.10,333.20 419.10,339.99 419.10,346.78 419.10,353.57 419.10,360.36 419.10,367.15 419.10,373.94 419.10,380.73 419.10,387.52 419.10,394.31 419.10,401.10 419.10,407.89 419.10,414.68 419.10,421.47 419.11,428.26 419.12,435.05 419.14,441.84 419.19,448.63 419.31,455.42 419.58,462.21 420.20,469.00 420.20,469.00 419.98,469.60 419.34,470.19 418.27,470.76 416.81,471.30 414.97,471.80 412.79,472.25 410.30,472.65 407.55,472.98 404.58,473.25 401.45,473.44 398.20,473.56 394.90,473.60 391.60,473.56 388.35,473.44 385.22,473.25 382.25,472.98 379.50,472.65 377.01,472.25 374.83,471.80 372.99,471.30 371.53,470.76 370.46,470.19 369.82,469.60 369.60,469.00 369.60,469.00 370.22,462.21 370.49,455.42 370.61,448.63 370.66,441.84 370.68,435.05 370.69,428.26 370.70,421.47 370.70,414.68 370.70,407.89 370.70,401.10 370.70,394.31 370.70,387.52 370.70,380.73 370.70,373.94 370.70,367.15 370.70,360.36 370.70,353.57 370.70,346.78 370.70,339.99 370.70,333.20 370.70,326.41 370.70,319.62 370.70,312.83 370.70,306.04 370.70,299.25 370.70,292.46 370.70,285.67 370.70,278.88 370.70,272.09 370.70,265.30 370.70,258.51 370.70,251.72 370.70,244.93 370.69,238.14 370.68,231.35 370.66,224.56 370.62,217.77 370.51,210.98 370.27,204.19 369.70,197.40Z"/></clipPath>
<g clip-path="url(#cy2)">
<rect x="364.9" y="185" width="60" height="295" fill="#1656f2"/>
<path d="M378,210.6 C376.3,211.7 375.6,211.8 375.6,215 C375.6,218.2 377.2,225.0 377.8,230 C378.4,235.0 378.8,240.8 379.2,245 C379.6,249.2 379.4,251.7 380,255 C380.6,258.3 382.8,260.8 382.7,265 C382.6,269.2 379.9,275.8 379.2,280 C378.5,284.2 378.5,286.7 378.5,290 C378.5,293.3 378.7,296.7 379.2,300 C379.7,303.3 380.6,306.7 381.3,310 C382.0,313.3 382.8,316.7 383.4,320 C384.0,323.3 384.4,326.7 384.9,330 C385.4,333.3 386.2,336.7 386.3,340 C386.4,343.3 386.2,346.7 385.6,350 C385.0,353.3 383.5,356.7 382.7,360 C381.9,363.3 381.2,366.7 380.6,370 C380.0,373.3 379.4,376.7 379.2,380 C379.0,383.3 379.1,387.2 379.2,390 C379.2,392.8 379.0,394.5 379.5,397 C380.0,399.5 381.2,402.0 382,405 C382.8,408.0 383.9,411.7 384.1,415 C384.3,418.3 384.0,421.7 383.4,425 C382.8,428.3 381.3,432.5 380.6,435 C379.9,437.5 379.6,438.3 379.2,440 C378.8,441.7 378.5,443.1 378.5,445 C378.5,446.9 377.6,450.3 379,451.7 C380.4,453.1 384.3,453.1 387,453.5 C389.7,453.9 392.3,453.9 395,453.9 C397.7,453.8 400.3,453.7 403,453.2 C405.7,452.7 409.5,452.4 411,451 C412.5,449.6 411.9,447.7 411.8,445 C411.7,442.3 411.1,438.3 410.4,435 C409.7,431.7 408.4,428.3 407.5,425 C406.6,421.7 404.9,418.3 404.7,415 C404.4,411.7 405.5,408.0 406,405 C406.5,402.0 406.9,399.5 407.5,397 C408.1,394.5 409.2,392.8 409.7,390 C410.2,387.2 410.3,383.3 410.4,380 C410.5,376.7 410.6,373.3 410.4,370 C410.2,366.7 409.6,363.3 409,360 C408.4,356.7 407.5,353.3 406.8,350 C406.1,346.7 404.8,343.3 404.7,340 C404.6,336.7 406.3,333.3 406.5,330 C406.7,326.7 405.8,323.3 406,320 C406.2,316.7 406.9,313.3 407.5,310 C408.1,306.7 409.2,303.3 409.7,300 C410.2,296.7 410.5,293.3 410.4,290 C410.3,286.7 409.5,283.3 409,280 C408.5,276.7 408.0,272.5 407.5,270 C407.0,267.5 406.4,267.0 406,265 C405.6,263.0 405.1,260.5 405.4,258 C405.6,255.5 407.4,253.0 407.5,250 C407.6,247.0 406.0,243.0 406,240 C406.0,237.0 406.9,234.5 407.6,232 C408.3,229.5 409.7,227.8 410.4,225 C411.1,222.2 411.9,217.2 411.8,215 C411.7,212.8 411.6,213.1 410,212 C408.4,210.9 404.5,209.2 402,208.5 C399.5,207.8 397.7,207.8 395,207.8 C392.3,207.8 388.8,208.1 386,208.6 C383.2,209.1 379.7,209.5 378,210.6Z" fill="#0808ee"/>
<path d="M369.70,194.40 369.92,193.51 370.56,192.64 371.62,191.80 373.08,191.00 374.91,190.26 377.08,189.59 379.56,189.01 382.30,188.51 385.26,188.12 388.38,187.83 391.61,187.66 394.90,187.60 398.19,187.66 401.42,187.83 404.54,188.12 407.50,188.51 410.24,189.01 412.72,189.59 414.89,190.26 416.72,191.00 418.18,191.80 419.24,192.64 419.88,193.51 420.10,194.40 419.63,202.62 419.42,201.76 418.78,200.92 417.74,200.10 416.31,199.33 414.52,198.62 412.38,197.97 409.95,197.40 407.26,196.92 404.36,196.54 401.30,196.27 398.13,196.10 394.90,196.04 391.67,196.10 388.50,196.27 385.44,196.54 382.54,196.92 379.85,197.40 377.42,197.97 375.28,198.62 373.49,199.33 372.06,200.10 371.02,200.92 370.38,201.76 370.17,202.62Z" fill="url(#rg6)"/>
<path d="M370.17,202.62 370.38,201.76 371.02,200.92 372.06,200.10 373.49,199.33 375.28,198.62 377.42,197.97 379.85,197.40 382.54,196.92 385.44,196.54 388.50,196.27 391.67,196.10 394.90,196.04 398.13,196.10 401.30,196.27 404.36,196.54 407.26,196.92 409.95,197.40 412.38,197.97 414.52,198.62 416.31,199.33 417.74,200.10 418.78,200.92 419.42,201.76 419.63,202.62 419.38,207.85 419.17,207.02 418.54,206.20 417.51,205.41 416.10,204.67 414.32,203.97 412.21,203.35 409.80,202.80 407.14,202.34 404.27,201.97 401.24,201.70 398.09,201.54 394.90,201.48 391.71,201.54 388.56,201.70 385.53,201.97 382.66,202.34 380.00,202.80 377.59,203.35 375.48,203.97 373.70,204.67 372.29,205.41 371.26,206.20 370.63,207.02 370.42,207.85Z" fill="url(#rg7)"/>
<path d="M370.42,207.85 370.63,207.02 371.26,206.20 372.29,205.41 373.70,204.67 375.48,203.97 377.59,203.35 380.00,202.80 382.66,202.34 385.53,201.97 388.56,201.70 391.71,201.54 394.90,201.48 398.09,201.54 401.24,201.70 404.27,201.97 407.14,202.34 409.80,202.80 412.21,203.35 414.32,203.97 416.10,204.67 417.51,205.41 418.54,206.20 419.17,207.02 419.38,207.85 419.25,213.07 419.04,212.27 418.42,211.48 417.39,210.72 415.98,210.00 414.22,209.33 412.12,208.73 409.72,208.20 407.07,207.75 404.22,207.39 401.20,207.14 398.08,206.98 394.90,206.93 391.72,206.98 388.60,207.14 385.58,207.39 382.73,207.75 380.08,208.20 377.68,208.73 375.58,209.33 373.82,210.00 372.41,210.72 371.38,211.48 370.76,212.27 370.55,213.07Z" fill="url(#rg8)"/>
<path d="M370.55,213.07 370.76,212.27 371.38,211.48 372.41,210.72 373.82,210.00 375.58,209.33 377.68,208.73 380.08,208.20 382.73,207.75 385.58,207.39 388.60,207.14 391.72,206.98 394.90,206.93 398.08,206.98 401.20,207.14 404.22,207.39 407.07,207.75 409.72,208.20 412.12,208.73 414.22,209.33 415.98,210.00 417.39,210.72 418.42,211.48 419.04,212.27 419.25,213.07 419.18,218.29 418.97,217.52 418.35,216.76 417.33,216.03 415.92,215.33 414.16,214.69 412.07,214.10 409.68,213.59 407.04,213.16 404.19,212.82 401.18,212.57 398.07,212.42 394.90,212.37 391.73,212.42 388.62,212.57 385.61,212.82 382.76,213.16 380.12,213.59 377.73,214.10 375.64,214.69 373.88,215.33 372.47,216.03 371.45,216.76 370.83,217.52 370.62,218.29Z" fill="url(#rg9)"/>
<path d="M370.62,218.29 370.83,217.52 371.45,216.76 372.47,216.03 373.88,215.33 375.64,214.69 377.73,214.10 380.12,213.59 382.76,213.16 385.61,212.82 388.62,212.57 391.73,212.42 394.90,212.37 398.07,212.42 401.18,212.57 404.19,212.82 407.04,213.16 409.68,213.59 412.07,214.10 414.16,214.69 415.92,215.33 417.33,216.03 418.35,216.76 418.97,217.52 419.18,218.29 419.14,223.52 418.93,222.77 418.31,222.04 417.30,221.33 415.89,220.66 414.13,220.04 412.04,219.48 409.66,218.99 407.02,218.58 404.18,218.25 401.17,218.01 398.06,217.86 394.90,217.81 391.74,217.86 388.63,218.01 385.62,218.25 382.78,218.58 380.14,218.99 377.76,219.48 375.67,220.04 373.91,220.66 372.50,221.33 371.49,222.04 370.87,222.77 370.66,223.52Z" fill="url(#rg10)"/>
<path d="M370.62,448.11 370.82,448.59 371.44,449.07 372.46,449.53 373.87,449.97 375.63,450.37 377.73,450.74 380.12,451.06 382.76,451.33 385.61,451.55 388.61,451.70 391.73,451.80 394.90,451.83 398.07,451.80 401.19,451.70 404.19,451.55 407.04,451.33 409.68,451.06 412.07,450.74 414.17,450.37 415.93,449.97 417.34,449.53 418.36,449.07 418.98,448.59 419.18,448.11 419.26,453.33 419.05,453.85 418.43,454.35 417.41,454.84 416.00,455.30 414.23,455.73 412.13,456.12 409.73,456.46 407.08,456.74 404.22,456.97 401.21,457.14 398.08,457.24 394.90,457.27 391.72,457.24 388.59,457.14 385.58,456.97 382.72,456.74 380.07,456.46 377.67,456.12 375.57,455.73 373.80,455.30 372.39,454.84 371.37,454.35 370.75,453.85 370.54,453.33Z" fill="url(#rg11)"/>
<path d="M370.54,453.33 370.75,453.85 371.37,454.35 372.39,454.84 373.80,455.30 375.57,455.73 377.67,456.12 380.07,456.46 382.72,456.74 385.58,456.97 388.59,457.14 391.72,457.24 394.90,457.27 398.08,457.24 401.21,457.14 404.22,456.97 407.08,456.74 409.73,456.46 412.13,456.12 414.23,455.73 416.00,455.30 417.41,454.84 418.43,454.35 419.05,453.85 419.26,453.33 419.41,458.55 419.20,459.10 418.57,459.63 417.54,460.15 416.12,460.63 414.34,461.09 412.23,461.50 409.82,461.86 407.15,462.16 404.28,462.40 401.24,462.57 398.10,462.68 394.90,462.72 391.70,462.68 388.56,462.57 385.52,462.40 382.65,462.16 379.98,461.86 377.57,461.50 375.46,461.09 373.68,460.63 372.26,460.15 371.23,459.63 370.60,459.10 370.39,458.55Z" fill="url(#rg12)"/>
<path d="M370.39,458.55 370.60,459.10 371.23,459.63 372.26,460.15 373.68,460.63 375.46,461.09 377.57,461.50 379.98,461.86 382.65,462.16 385.52,462.40 388.56,462.57 391.70,462.68 394.90,462.72 398.10,462.68 401.24,462.57 404.28,462.40 407.15,462.16 409.82,461.86 412.23,461.50 414.34,461.09 416.12,460.63 417.54,460.15 418.57,459.63 419.20,459.10 419.41,458.55 419.68,463.78 419.47,464.35 418.84,464.91 417.79,465.45 416.36,465.97 414.56,466.44 412.42,466.87 409.98,467.25 407.29,467.57 404.38,467.82 401.31,468.01 398.13,468.12 394.90,468.16 391.67,468.12 388.49,468.01 385.42,467.82 382.51,467.57 379.82,467.25 377.38,466.87 375.24,466.44 373.44,465.97 372.01,465.45 370.96,464.91 370.33,464.35 370.12,463.78Z" fill="url(#rg13)"/>
<path d="M370.12,463.78 370.33,464.35 370.96,464.91 372.01,465.45 373.44,465.97 375.24,466.44 377.38,466.87 379.82,467.25 382.51,467.57 385.42,467.82 388.49,468.01 391.67,468.12 394.90,468.16 398.13,468.12 401.31,468.01 404.38,467.82 407.29,467.57 409.98,467.25 412.42,466.87 414.56,466.44 416.36,465.97 417.79,465.45 418.84,464.91 419.47,464.35 419.68,463.78 420.20,472.00 419.98,472.60 419.34,473.19 418.27,473.76 416.81,474.30 414.97,474.80 412.79,475.25 410.30,475.65 407.55,475.98 404.58,476.25 401.45,476.44 398.20,476.56 394.90,476.60 391.60,476.56 388.35,476.44 385.22,476.25 382.25,475.98 379.50,475.65 377.01,475.25 374.83,474.80 372.99,474.30 371.53,473.76 370.46,473.19 369.82,472.60 369.60,472.00Z" fill="url(#rg14)"/>
<g fill="none" stroke="#000028" stroke-opacity="0.75" stroke-width="0.7">
<polyline points="370.17,202.62 370.38,201.76 371.02,200.92 372.06,200.10 373.49,199.33 375.28,198.62 377.42,197.97 379.85,197.40 382.54,196.92 385.44,196.54 388.50,196.27 391.67,196.10 394.90,196.04 398.13,196.10 401.30,196.27 404.36,196.54 407.26,196.92 409.95,197.40 412.38,197.97 414.52,198.62 416.31,199.33 417.74,200.10 418.78,200.92 419.42,201.76 419.63,202.62"/>
<polyline points="370.42,207.85 370.63,207.02 371.26,206.20 372.29,205.41 373.70,204.67 375.48,203.97 377.59,203.35 380.00,202.80 382.66,202.34 385.53,201.97 388.56,201.70 391.71,201.54 394.90,201.48 398.09,201.54 401.24,201.70 404.27,201.97 407.14,202.34 409.80,202.80 412.21,203.35 414.32,203.97 416.10,204.67 417.51,205.41 418.54,206.20 419.17,207.02 419.38,207.85"/>
<polyline points="370.55,213.07 370.76,212.27 371.38,211.48 372.41,210.72 373.82,210.00 375.58,209.33 377.68,208.73 380.08,208.20 382.73,207.75 385.58,207.39 388.60,207.14 391.72,206.98 394.90,206.93 398.08,206.98 401.20,207.14 404.22,207.39 407.07,207.75 409.72,208.20 412.12,208.73 414.22,209.33 415.98,210.00 417.39,210.72 418.42,211.48 419.04,212.27 419.25,213.07"/>
<polyline points="370.62,218.29 370.83,217.52 371.45,216.76 372.47,216.03 373.88,215.33 375.64,214.69 377.73,214.10 380.12,213.59 382.76,213.16 385.61,212.82 388.62,212.57 391.73,212.42 394.90,212.37 398.07,212.42 401.18,212.57 404.19,212.82 407.04,213.16 409.68,213.59 412.07,214.10 414.16,214.69 415.92,215.33 417.33,216.03 418.35,216.76 418.97,217.52 419.18,218.29"/>
<polyline points="370.66,223.52 370.87,222.77 371.49,222.04 372.50,221.33 373.91,220.66 375.67,220.04 377.76,219.48 380.14,218.99 382.78,218.58 385.62,218.25 388.63,218.01 391.74,217.86 394.90,217.81 398.06,217.86 401.17,218.01 404.18,218.25 407.02,218.58 409.66,218.99 412.04,219.48 414.13,220.04 415.89,220.66 417.30,221.33 418.31,222.04 418.93,222.77 419.14,223.52"/>
<polyline points="370.68,228.74 370.89,228.02 371.50,227.32 372.52,226.64 373.92,226.00 375.68,225.40 377.77,224.86 380.15,224.39 382.79,223.99 385.63,223.67 388.63,223.44 391.74,223.30 394.90,223.25 398.06,223.30 401.17,223.44 404.17,223.67 407.01,223.99 409.65,224.39 412.03,224.86 414.12,225.40 415.88,226.00 417.28,226.64 418.30,227.32 418.91,228.02 419.12,228.74"/>
<polyline points="370.69,233.96 370.90,233.27 371.51,232.60 372.53,231.95 373.93,231.33 375.69,230.76 377.78,230.24 380.16,229.78 382.79,229.40 385.63,229.10 388.63,228.88 391.74,228.74 394.90,228.70 398.06,228.74 401.17,228.88 404.17,229.10 407.01,229.40 409.64,229.78 412.02,230.24 414.11,230.76 415.87,231.33 417.27,231.95 418.29,232.60 418.90,233.27 419.11,233.96"/>
<polyline points="370.69,239.18 370.90,238.53 371.52,237.88 372.54,237.25 373.94,236.66 375.70,236.11 377.78,235.62 380.16,235.18 382.80,234.81 385.64,234.52 388.64,234.31 391.74,234.18 394.90,234.14 398.06,234.18 401.16,234.31 404.16,234.52 407.00,234.81 409.64,235.18 412.02,235.62 414.10,236.11 415.86,236.66 417.26,237.25 418.28,237.88 418.90,238.53 419.11,239.18"/>
<polyline points="370.70,244.41 370.90,243.78 371.52,243.16 372.54,242.56 373.94,241.99 375.70,241.47 377.79,240.99 380.17,240.58 382.80,240.23 385.64,239.95 388.64,239.75 391.74,239.62 394.90,239.58 398.06,239.62 401.16,239.75 404.16,239.95 407.00,240.23 409.63,240.58 412.01,240.99 414.10,241.47 415.86,241.99 417.26,242.56 418.28,243.16 418.90,243.78 419.10,244.41"/>
<polyline points="370.70,249.63 370.91,249.03 371.52,248.44 372.54,247.87 373.94,247.33 375.70,246.83 377.79,246.37 380.17,245.98 382.80,245.64 385.64,245.37 388.64,245.18 391.74,245.06 394.90,245.02 398.06,245.06 401.16,245.18 404.16,245.37 407.00,245.64 409.63,245.98 412.01,246.37 414.10,246.83 415.86,247.33 417.26,247.87 418.28,248.44 418.89,249.03 419.10,249.63"/>
<polyline points="370.70,254.85 370.91,254.28 371.52,253.72 372.54,253.17 373.94,252.66 375.70,252.18 377.79,251.75 380.17,251.37 382.80,251.05 385.64,250.80 388.64,250.61 391.74,250.50 394.90,250.47 398.06,250.50 401.16,250.61 404.16,250.80 407.00,251.05 409.63,251.37 412.01,251.75 414.10,252.18 415.86,252.66 417.26,253.17 418.28,253.72 418.89,254.28 419.10,254.85"/>
<polyline points="370.70,260.08 370.91,259.53 371.52,259.00 372.54,258.48 373.94,257.99 375.70,257.54 377.79,257.13 380.17,256.77 382.80,256.47 385.64,256.23 388.64,256.05 391.74,255.94 394.90,255.91 398.06,255.94 401.16,256.05 404.16,256.23 407.00,256.47 409.63,256.77 412.01,257.13 414.10,257.54 415.86,257.99 417.26,258.48 418.28,259.00 418.89,259.53 419.10,260.08"/>
<polyline points="370.70,265.30 370.91,264.78 371.52,264.28 372.54,263.79 373.94,263.32 375.70,262.90 377.79,262.51 380.17,262.17 382.80,261.88 385.64,261.65 388.64,261.48 391.74,261.38 394.90,261.35 398.06,261.38 401.16,261.48 404.16,261.65 407.00,261.88 409.63,262.17 412.01,262.51 414.10,262.90 415.86,263.32 417.26,263.79 418.28,264.28 418.89,264.78 419.10,265.30"/>
<polyline points="370.70,270.52 370.91,270.04 371.52,269.56 372.54,269.10 373.94,268.66 375.70,268.25 377.79,267.89 380.17,267.56 382.80,267.29 385.64,267.08 388.64,266.92 391.74,266.82 394.90,266.79 398.06,266.82 401.16,266.92 404.16,267.08 407.00,267.29 409.63,267.56 412.01,267.89 414.10,268.25 415.86,268.66 417.26,269.10 418.28,269.56 418.89,270.04 419.10,270.52"/>
<polyline points="370.70,275.75 370.91,275.29 371.52,274.84 372.54,274.40 373.94,273.99 375.70,273.61 377.79,273.26 380.17,272.96 382.80,272.71 385.64,272.50 388.64,272.35 391.74,272.26 394.90,272.23 398.06,272.26 401.16,272.35 404.16,272.50 407.00,272.71 409.63,272.96 412.01,273.26 414.10,273.61 415.86,273.99 417.26,274.40 418.28,274.84 418.89,275.29 419.10,275.75"/>
<polyline points="370.70,280.97 370.91,280.54 371.52,280.12 372.54,279.71 373.94,279.32 375.70,278.97 377.79,278.64 380.17,278.36 382.80,278.12 385.64,277.93 388.64,277.79 391.74,277.71 394.90,277.68 398.06,277.71 401.16,277.79 404.16,277.93 407.00,278.12 409.63,278.36 412.01,278.64 414.10,278.97 415.86,279.32 417.26,279.71 418.28,280.12 418.89,280.54 419.10,280.97"/>
<polyline points="370.70,286.19 370.91,285.79 371.52,285.40 372.54,285.02 373.94,284.66 375.70,284.32 377.79,284.02 380.17,283.75 382.80,283.53 385.64,283.35 388.64,283.22 391.74,283.15 394.90,283.12 398.06,283.15 401.16,283.22 404.16,283.35 407.00,283.53 409.63,283.75 412.01,284.02 414.10,284.32 415.86,284.66 417.26,285.02 418.28,285.40 418.89,285.79 419.10,286.19"/>
<polyline points="370.70,291.42 370.91,291.04 371.52,290.68 372.54,290.32 373.94,289.99 375.70,289.68 377.79,289.40 380.17,289.15 382.80,288.94 385.64,288.78 388.64,288.66 391.74,288.59 394.90,288.56 398.06,288.59 401.16,288.66 404.16,288.78 407.00,288.94 409.63,289.15 412.01,289.40 414.10,289.68 415.86,289.99 417.26,290.32 418.28,290.68 418.89,291.04 419.10,291.42"/>
<polyline points="370.70,296.64 370.91,296.29 371.52,295.96 372.54,295.63 373.94,295.32 375.70,295.03 377.79,294.78 380.17,294.55 382.80,294.36 385.64,294.20 388.64,294.09 391.74,294.03 394.90,294.00 398.06,294.03 401.16,294.09 404.16,294.20 407.00,294.36 409.63,294.55 412.01,294.78 414.10,295.03 415.86,295.32 417.26,295.63 418.28,295.96 418.89,296.29 419.10,296.64"/>
<polyline points="370.70,301.86 370.91,301.55 371.52,301.24 372.54,300.94 373.94,300.65 375.70,300.39 377.79,300.15 380.17,299.95 382.80,299.77 385.64,299.63 388.64,299.53 391.74,299.47 394.90,299.45 398.06,299.47 401.16,299.53 404.16,299.63 407.00,299.77 409.63,299.95 412.01,300.15 414.10,300.39 415.86,300.65 417.26,300.94 418.28,301.24 418.89,301.55 419.10,301.86"/>
<polyline points="370.70,307.08 370.91,306.80 371.52,306.52 372.54,306.24 373.94,305.99 375.70,305.75 377.79,305.53 380.17,305.34 382.80,305.18 385.64,305.06 388.64,304.96 391.74,304.91 394.90,304.89 398.06,304.91 401.16,304.96 404.16,305.06 407.00,305.18 409.63,305.34 412.01,305.53 414.10,305.75 415.86,305.99 417.26,306.24 418.28,306.52 418.89,306.80 419.10,307.08"/>
<polyline points="370.70,312.31 370.91,312.05 371.52,311.80 372.54,311.55 373.94,311.32 375.70,311.10 377.79,310.91 380.17,310.74 382.80,310.60 385.64,310.48 388.64,310.40 391.74,310.35 394.90,310.33 398.06,310.35 401.16,310.40 404.16,310.48 407.00,310.60 409.63,310.74 412.01,310.91 414.10,311.10 415.86,311.32 417.26,311.55 418.28,311.80 418.89,312.05 419.10,312.31"/>
<polyline points="370.70,317.53 370.91,317.30 371.52,317.08 372.54,316.86 373.94,316.65 375.70,316.46 377.79,316.29 380.17,316.14 382.80,316.01 385.64,315.91 388.64,315.83 391.74,315.79 394.90,315.77 398.06,315.79 401.16,315.83 404.16,315.91 407.00,316.01 409.63,316.14 412.01,316.29 414.10,316.46 415.86,316.65 417.26,316.86 418.28,317.08 418.89,317.30 419.10,317.53"/>
<polyline points="370.70,322.75 370.91,322.55 371.52,322.36 372.54,322.17 373.94,321.98 375.70,321.82 377.79,321.67 380.17,321.53 382.80,321.42 385.64,321.33 388.64,321.27 391.74,321.23 394.90,321.22 398.06,321.23 401.16,321.27 404.16,321.33 407.00,321.42 409.63,321.53 412.01,321.67 414.10,321.82 415.86,321.98 417.26,322.17 418.28,322.36 418.89,322.55 419.10,322.75"/>
<polyline points="370.70,327.98 370.91,327.80 371.52,327.64 372.54,327.47 373.94,327.32 375.70,327.17 377.79,327.04 380.17,326.93 382.80,326.83 385.64,326.76 388.64,326.70 391.74,326.67 394.90,326.66 398.06,326.67 401.16,326.70 404.16,326.76 407.00,326.83 409.63,326.93 412.01,327.04 414.10,327.17 415.86,327.32 417.26,327.47 418.28,327.64 418.89,327.80 419.10,327.98"/>
<polyline points="370.70,333.20 370.91,333.06 371.52,332.92 372.54,332.78 373.94,332.65 375.70,332.53 377.79,332.42 380.17,332.33 382.80,332.25 385.64,332.18 388.64,332.14 391.74,332.11 394.90,332.10 398.06,332.11 401.16,332.14 404.16,332.18 407.00,332.25 409.63,332.33 412.01,332.42 414.10,332.53 415.86,332.65 417.26,332.78 418.28,332.92 418.89,333.06 419.10,333.20"/>
<polyline points="370.70,338.42 370.91,338.31 371.52,338.20 372.54,338.09 373.94,337.98 375.70,337.89 377.79,337.80 380.17,337.72 382.80,337.66 385.64,337.61 388.64,337.57 391.74,337.55 394.90,337.54 398.06,337.55 401.16,337.57 404.16,337.61 407.00,337.66 409.63,337.72 412.01,337.80 414.10,337.89 415.86,337.98 417.26,338.09 418.28,338.20 418.89,338.31 419.10,338.42"/>
<polyline points="370.70,343.65 370.91,343.56 371.52,343.47 372.54,343.39 373.94,343.32 375.70,343.24 377.79,343.18 380.17,343.12 382.80,343.07 385.64,343.03 388.64,343.01 391.74,342.99 394.90,342.98 398.06,342.99 401.16,343.01 404.16,343.03 407.00,343.07 409.63,343.12 412.01,343.18 414.10,343.24 415.86,343.32 417.26,343.39 418.28,343.47 418.89,343.56 419.10,343.65"/>
<polyline points="370.70,348.87 370.91,348.81 371.52,348.75 372.54,348.70 373.94,348.65 375.70,348.60 377.79,348.56 380.17,348.52 382.80,348.49 385.64,348.46 388.64,348.44 391.74,348.43 394.90,348.43 398.06,348.43 401.16,348.44 404.16,348.46 407.00,348.49 409.63,348.52 412.01,348.56 414.10,348.60 415.86,348.65 417.26,348.70 418.28,348.75 418.89,348.81 419.10,348.87"/>
<polyline points="370.70,354.09 370.91,354.06 371.52,354.03 372.54,354.01 373.94,353.98 375.70,353.96 377.79,353.93 380.17,353.92 382.80,353.90 385.64,353.89 388.64,353.88 391.74,353.87 394.90,353.87 398.06,353.87 401.16,353.88 404.16,353.89 407.00,353.90 409.63,353.92 412.01,353.93 414.10,353.96 415.86,353.98 417.26,354.01 418.28,354.03 418.89,354.06 419.10,354.09"/>
<polyline points="370.70,359.32 370.91,359.31 371.52,359.31 372.54,359.31 373.94,359.31 375.70,359.31 377.79,359.31 380.17,359.31 382.80,359.31 385.64,359.31 388.64,359.31 391.74,359.31 394.90,359.31 398.06,359.31 401.16,359.31 404.16,359.31 407.00,359.31 409.63,359.31 412.01,359.31 414.10,359.31 415.86,359.31 417.26,359.31 418.28,359.31 418.89,359.31 419.10,359.32"/>
<polyline points="370.70,364.54 370.91,364.57 371.52,364.59 372.54,364.62 373.94,364.65 375.70,364.67 377.79,364.69 380.17,364.71 382.80,364.72 385.64,364.74 388.64,364.75 391.74,364.75 394.90,364.75 398.06,364.75 401.16,364.75 404.16,364.74 407.00,364.72 409.63,364.71 412.01,364.69 414.10,364.67 415.86,364.65 417.26,364.62 418.28,364.59 418.89,364.57 419.10,364.54"/>
<polyline points="370.70,369.76 370.91,369.82 371.52,369.87 372.54,369.93 373.94,369.98 375.70,370.03 377.79,370.07 380.17,370.11 382.80,370.14 385.64,370.16 388.64,370.18 391.74,370.19 394.90,370.20 398.06,370.19 401.16,370.18 404.16,370.16 407.00,370.14 409.63,370.11 412.01,370.07 414.10,370.03 415.86,369.98 417.26,369.93 418.28,369.87 418.89,369.82 419.10,369.76"/>
<polyline points="370.70,374.98 370.91,375.07 371.52,375.15 372.54,375.23 373.94,375.31 375.70,375.38 377.79,375.45 380.17,375.50 382.80,375.55 385.64,375.59 388.64,375.62 391.74,375.63 394.90,375.64 398.06,375.63 401.16,375.62 404.16,375.59 407.00,375.55 409.63,375.50 412.01,375.45 414.10,375.38 415.86,375.31 417.26,375.23 418.28,375.15 418.89,375.07 419.10,374.98"/>
<polyline points="370.70,380.21 370.91,380.32 371.52,380.43 372.54,380.54 373.94,380.64 375.70,380.74 377.79,380.83 380.17,380.90 382.80,380.96 385.64,381.01 388.64,381.05 391.74,381.07 394.90,381.08 398.06,381.07 401.16,381.05 404.16,381.01 407.00,380.96 409.63,380.90 412.01,380.83 414.10,380.74 415.86,380.64 417.26,380.54 418.28,380.43 418.89,380.32 419.10,380.21"/>
<polyline points="370.70,385.43 370.91,385.57 371.52,385.71 372.54,385.85 373.94,385.98 375.70,386.10 377.79,386.20 380.17,386.30 382.80,386.38 385.64,386.44 388.64,386.49 391.74,386.51 394.90,386.52 398.06,386.51 401.16,386.49 404.16,386.44 407.00,386.38 409.63,386.30 412.01,386.20 414.10,386.10 415.86,385.98 417.26,385.85 418.28,385.71 418.89,385.57 419.10,385.43"/>
<polyline points="370.70,390.65 370.91,390.83 371.52,390.99 372.54,391.16 373.94,391.31 375.70,391.45 377.79,391.58 380.17,391.69 382.80,391.79 385.64,391.87 388.64,391.92 391.74,391.95 394.90,391.97 398.06,391.95 401.16,391.92 404.16,391.87 407.00,391.79 409.63,391.69 412.01,391.58 414.10,391.45 415.86,391.31 417.26,391.16 418.28,390.99 418.89,390.83 419.10,390.65"/>
<polyline points="370.70,395.88 370.91,396.08 371.52,396.27 372.54,396.46 373.94,396.64 375.70,396.81 377.79,396.96 380.17,397.09 382.80,397.20 385.64,397.29 388.64,397.36 391.74,397.39 394.90,397.41 398.06,397.39 401.16,397.36 404.16,397.29 407.00,397.20 409.63,397.09 412.01,396.96 414.10,396.81 415.86,396.64 417.26,396.46 418.28,396.27 418.89,396.08 419.10,395.88"/>
<polyline points="370.70,401.10 370.91,401.33 371.52,401.55 372.54,401.77 373.94,401.98 375.70,402.17 377.79,402.34 380.17,402.49 382.80,402.62 385.64,402.72 388.64,402.79 391.74,402.84 394.90,402.85 398.06,402.84 401.16,402.79 404.16,402.72 407.00,402.62 409.63,402.49 412.01,402.34 414.10,402.17 415.86,401.98 417.26,401.77 418.28,401.55 418.89,401.33 419.10,401.10"/>
<polyline points="370.70,406.32 370.91,406.58 371.52,406.83 372.54,407.08 373.94,407.31 375.70,407.52 377.79,407.72 380.17,407.89 382.80,408.03 385.64,408.14 388.64,408.23 391.74,408.28 394.90,408.29 398.06,408.28 401.16,408.23 404.16,408.14 407.00,408.03 409.63,407.89 412.01,407.72 414.10,407.52 415.86,407.31 417.26,407.08 418.28,406.83 418.89,406.58 419.10,406.32"/>
<polyline points="370.70,411.55 370.91,411.83 371.52,412.11 372.54,412.38 373.94,412.64 375.70,412.88 377.79,413.09 380.17,413.28 382.80,413.44 385.64,413.57 388.64,413.66 391.74,413.72 394.90,413.73 398.06,413.72 401.16,413.66 404.16,413.57 407.00,413.44 409.63,413.28 412.01,413.09 414.10,412.88 415.86,412.64 417.26,412.38 418.28,412.11 418.89,411.83 419.10,411.55"/>
<polyline points="370.70,416.77 370.91,417.08 371.52,417.39 372.54,417.69 373.94,417.97 375.70,418.23 377.79,418.47 380.17,418.68 382.80,418.85 385.64,418.99 388.64,419.09 391.74,419.16 394.90,419.18 398.06,419.16 401.16,419.09 404.16,418.99 407.00,418.85 409.63,418.68 412.01,418.47 414.10,418.23 415.86,417.97 417.26,417.69 418.28,417.39 418.89,417.08 419.10,416.77"/>
<polyline points="370.70,421.99 370.90,422.34 371.52,422.67 372.54,423.00 373.94,423.31 375.70,423.59 377.79,423.85 380.17,424.08 382.80,424.27 385.64,424.42 388.64,424.53 391.74,424.60 394.90,424.62 398.06,424.60 401.16,424.53 404.16,424.42 407.00,424.27 409.63,424.08 412.01,423.85 414.10,423.59 415.86,423.31 417.26,423.00 418.28,422.67 418.90,422.34 419.10,421.99"/>
<polyline points="370.69,427.22 370.90,427.59 371.52,427.95 372.54,428.30 373.94,428.64 375.70,428.95 377.78,429.23 380.16,429.47 382.80,429.68 385.64,429.84 388.63,429.96 391.74,430.04 394.90,430.06 398.06,430.04 401.17,429.96 404.16,429.84 407.00,429.68 409.64,429.47 412.02,429.23 414.10,428.95 415.86,428.64 417.26,428.30 418.28,427.95 418.90,427.59 419.11,427.22"/>
<polyline points="370.69,432.44 370.89,432.84 371.51,433.23 372.53,433.61 373.93,433.97 375.69,434.30 377.78,434.61 380.16,434.87 382.79,435.09 385.63,435.27 388.63,435.40 391.74,435.48 394.90,435.50 398.06,435.48 401.17,435.40 404.17,435.27 407.01,435.09 409.64,434.87 412.02,434.61 414.11,434.30 415.87,433.97 417.27,433.61 418.29,433.23 418.91,432.84 419.11,432.44"/>
<polyline points="370.68,437.66 370.88,438.09 371.50,438.51 372.52,438.92 373.92,439.30 375.68,439.66 377.77,439.98 380.15,440.27 382.79,440.51 385.63,440.70 388.63,440.83 391.74,440.92 394.90,440.95 398.06,440.92 401.17,440.83 404.17,440.70 407.01,440.51 409.65,440.27 412.03,439.98 414.12,439.66 415.88,439.30 417.28,438.92 418.30,438.51 418.92,438.09 419.12,437.66"/>
<polyline points="370.66,442.88 370.86,443.34 371.48,443.79 372.50,444.23 373.90,444.64 375.67,445.02 377.76,445.36 380.14,445.66 382.78,445.92 385.62,446.12 388.63,446.27 391.74,446.36 394.90,446.39 398.06,446.36 401.17,446.27 404.18,446.12 407.02,445.92 409.66,445.66 412.04,445.36 414.13,445.02 415.90,444.64 417.30,444.23 418.32,443.79 418.94,443.34 419.14,442.88"/>
<polyline points="370.62,448.11 370.82,448.59 371.44,449.07 372.46,449.53 373.87,449.97 375.63,450.37 377.73,450.74 380.12,451.06 382.76,451.33 385.61,451.55 388.61,451.70 391.73,451.80 394.90,451.83 398.07,451.80 401.19,451.70 404.19,451.55 407.04,451.33 409.68,451.06 412.07,450.74 414.17,450.37 415.93,449.97 417.34,449.53 418.36,449.07 418.98,448.59 419.18,448.11"/>
<polyline points="370.54,453.33 370.75,453.85 371.37,454.35 372.39,454.84 373.80,455.30 375.57,455.73 377.67,456.12 380.07,456.46 382.72,456.74 385.58,456.97 388.59,457.14 391.72,457.24 394.90,457.27 398.08,457.24 401.21,457.14 404.22,456.97 407.08,456.74 409.73,456.46 412.13,456.12 414.23,455.73 416.00,455.30 417.41,454.84 418.43,454.35 419.05,453.85 419.26,453.33"/>
<polyline points="370.39,458.55 370.60,459.10 371.23,459.63 372.26,460.15 373.68,460.63 375.46,461.09 377.57,461.50 379.98,461.86 382.65,462.16 385.52,462.40 388.56,462.57 391.70,462.68 394.90,462.72 398.10,462.68 401.24,462.57 404.28,462.40 407.15,462.16 409.82,461.86 412.23,461.50 414.34,461.09 416.12,460.63 417.54,460.15 418.57,459.63 419.20,459.10 419.41,458.55"/>
<polyline points="370.12,463.78 370.33,464.35 370.96,464.91 372.01,465.45 373.44,465.97 375.24,466.44 377.38,466.87 379.82,467.25 382.51,467.57 385.42,467.82 388.49,468.01 391.67,468.12 394.90,468.16 398.13,468.12 401.31,468.01 404.38,467.82 407.29,467.57 409.98,467.25 412.42,466.87 414.56,466.44 416.36,465.97 417.79,465.45 418.84,464.91 419.47,464.35 419.68,463.78"/>
<polyline points="369.71,197.24 370.69,231.22 370.71,265.21 370.71,299.19 370.71,333.17 370.71,367.16 370.71,401.14 370.69,435.12 369.61,469.11"/>
<polyline points="369.96,196.43 370.93,230.59 370.95,264.74 370.95,298.89 370.95,333.04 370.95,367.20 370.95,401.35 370.93,435.50 369.86,469.65"/>
<polyline points="370.56,195.64 371.51,229.96 371.52,264.28 371.52,298.60 371.52,332.92 371.52,367.23 371.52,401.55 371.51,435.87 370.46,470.19"/>
<polyline points="371.50,194.87 372.42,229.35 372.43,263.83 372.43,298.31 372.43,332.79 372.43,367.27 372.43,401.75 372.42,436.23 371.41,470.71"/>
<polyline points="372.78,194.14 373.64,228.77 373.66,263.41 373.66,298.04 373.66,332.67 373.66,367.31 373.66,401.94 373.64,436.57 372.69,471.20"/>
<polyline points="374.37,193.46 375.17,228.23 375.19,263.01 375.19,297.79 375.19,332.56 375.19,367.34 375.18,402.11 375.17,436.89 374.29,471.67"/>
<polyline points="376.25,192.83 376.98,227.73 376.99,262.64 376.99,297.55 376.99,332.46 376.99,367.37 376.99,402.28 376.98,437.19 376.18,472.09"/>
<polyline points="378.40,192.26 379.04,227.29 379.05,262.32 379.05,297.34 379.05,332.37 379.05,367.40 379.05,402.42 379.04,437.45 378.33,472.48"/>
<polyline points="380.77,191.77 381.33,226.90 381.33,262.03 381.33,297.16 381.33,332.29 381.33,367.42 381.33,402.55 381.32,437.68 380.72,472.81"/>
<polyline points="383.35,191.36 383.80,226.57 383.81,261.79 383.81,297.01 383.81,332.22 383.81,367.44 383.81,402.66 383.80,437.87 383.31,473.09"/>
<polyline points="386.09,191.03 386.44,226.31 386.44,261.60 386.44,296.88 386.44,332.17 386.44,367.45 386.44,402.74 386.44,438.02 386.06,473.31"/>
<polyline points="388.96,190.79 389.19,226.13 389.19,261.46 389.19,296.80 389.19,332.13 389.19,367.47 389.19,402.80 389.19,438.14 388.93,473.47"/>
<polyline points="391.91,190.65 392.02,226.01 392.03,261.38 392.03,296.74 392.03,332.11 392.03,367.47 392.03,402.84 392.02,438.20 391.90,473.57"/>
<polyline points="394.90,190.60 394.90,225.98 394.90,261.35 394.90,296.73 394.90,332.10 394.90,367.47 394.90,402.85 394.90,438.23 394.90,473.60"/>
<polyline points="397.89,190.65 397.78,226.01 397.77,261.38 397.77,296.74 397.77,332.11 397.77,367.47 397.77,402.84 397.78,438.20 397.90,473.57"/>
<polyline points="400.84,190.79 400.61,226.13 400.61,261.46 400.61,296.80 400.61,332.13 400.61,367.47 400.61,402.80 400.61,438.14 400.87,473.47"/>
<polyline points="403.71,191.03 403.36,226.31 403.36,261.60 403.36,296.88 403.36,332.17 403.36,367.45 403.36,402.74 403.36,438.02 403.74,473.31"/>
<polyline points="406.45,191.36 406.00,226.57 405.99,261.79 405.99,297.01 405.99,332.22 405.99,367.44 405.99,402.66 406.00,437.87 406.49,473.09"/>
<polyline points="409.03,191.77 408.47,226.90 408.47,262.03 408.47,297.16 408.47,332.29 408.47,367.42 408.47,402.55 408.48,437.68 409.08,472.81"/>
<polyline points="411.40,192.26 410.76,227.29 410.75,262.32 410.75,297.34 410.75,332.37 410.75,367.40 410.75,402.42 410.76,437.45 411.47,472.48"/>
<polyline points="413.55,192.83 412.82,227.73 412.81,262.64 412.81,297.55 412.81,332.46 412.81,367.37 412.81,402.28 412.82,437.19 413.62,472.09"/>
<polyline points="415.43,193.46 414.63,228.23 414.61,263.01 414.61,297.79 414.61,332.56 414.61,367.34 414.62,402.11 414.63,436.89 415.51,471.67"/>
<polyline points="417.02,194.14 416.16,228.77 416.14,263.41 416.14,298.04 416.14,332.67 416.14,367.31 416.14,401.94 416.16,436.57 417.11,471.20"/>
<polyline points="418.30,194.87 417.38,229.35 417.37,263.83 417.37,298.31 417.37,332.79 417.37,367.27 417.37,401.75 417.38,436.23 418.39,470.71"/>
<polyline points="419.24,195.64 418.29,229.96 418.28,264.28 418.28,298.60 418.28,332.92 418.28,367.23 418.28,401.55 418.29,435.87 419.34,470.19"/>
<polyline points="419.84,196.43 418.87,230.59 418.85,264.74 418.85,298.89 418.85,333.04 418.85,367.20 418.85,401.35 418.87,435.50 419.94,469.65"/>
<polyline points="420.09,197.24 419.11,231.22 419.09,265.21 419.09,299.19 419.09,333.17 419.09,367.16 419.09,401.14 419.11,435.12 420.19,469.11"/>
</g></g>
<path d="M369.70,197.40 369.92,196.51 370.56,195.64 371.62,194.80 373.08,194.00 374.91,193.26 377.08,192.59 379.56,192.01 382.30,191.51 385.26,191.12 388.38,190.83 391.61,190.66 394.90,190.60 398.19,190.66 401.42,190.83 404.54,191.12 407.50,191.51 410.24,192.01 412.72,192.59 414.89,193.26 416.72,194.00 418.18,194.80 419.24,195.64 419.88,196.51 420.10,197.40 420.10,197.40 419.53,204.19 419.29,210.98 419.18,217.77 419.14,224.56 419.12,231.35 419.11,238.14 419.10,244.93 419.10,251.72 419.10,258.51 419.10,265.30 419.10,272.09 419.10,278.88 419.10,285.67 419.10,292.46 419.10,299.25 419.10,306.04 419.10,312.83 419.10,319.62 419.10,326.41 419.10,333.20 419.10,339.99 419.10,346.78 419.10,353.57 419.10,360.36 419.10,367.15 419.10,373.94 419.10,380.73 419.10,387.52 419.10,394.31 419.10,401.10 419.10,407.89 419.10,414.68 419.10,421.47 419.11,428.26 419.12,435.05 419.14,441.84 419.19,448.63 419.31,455.42 419.58,462.21 420.20,469.00 420.20,469.00 419.98,469.60 419.34,470.19 418.27,470.76 416.81,471.30 414.97,471.80 412.79,472.25 410.30,472.65 407.55,472.98 404.58,473.25 401.45,473.44 398.20,473.56 394.90,473.60 391.60,473.56 388.35,473.44 385.22,473.25 382.25,472.98 379.50,472.65 377.01,472.25 374.83,471.80 372.99,471.30 371.53,470.76 370.46,470.19 369.82,469.60 369.60,469.00 369.60,469.00 370.22,462.21 370.49,455.42 370.61,448.63 370.66,441.84 370.68,435.05 370.69,428.26 370.70,421.47 370.70,414.68 370.70,407.89 370.70,401.10 370.70,394.31 370.70,387.52 370.70,380.73 370.70,373.94 370.70,367.15 370.70,360.36 370.70,353.57 370.70,346.78 370.70,339.99 370.70,333.20 370.70,326.41 370.70,319.62 370.70,312.83 370.70,306.04 370.70,299.25 370.70,292.46 370.70,285.67 370.70,278.88 370.70,272.09 370.70,265.30 370.70,258.51 370.70,251.72 370.70,244.93 370.69,238.14 370.68,231.35 370.66,224.56 370.62,217.77 370.51,210.98 370.27,204.19 369.70,197.40Z" fill="none" stroke="#333" stroke-width="0.8"/>
<rect x="298.1" y="199.80" width="11.3" height="7.63" fill="#FF0000"/>
<rect x="298.1" y="207.43" width="11.3" height="7.63" fill="#FF5D00"/>
<rect x="298.1" y="215.06" width="11.3" height="7.63" fill="#FFB900"/>
<rect x="298.1" y="222.69" width="11.3" height="7.63" fill="#E8FF00"/>
<rect x="298.1" y="230.32" width="11.3" height="7.63" fill="#8BFF00"/>
<rect x="298.1" y="237.95" width="11.3" height="7.63" fill="#2EFF00"/>
<rect x="298.1" y="245.58" width="11.3" height="7.63" fill="#00FF2E"/>
<rect x="298.1" y="253.21" width="11.3" height="7.63" fill="#00FF8B"/>
<rect x="298.1" y="260.84" width="11.3" height="7.63" fill="#00FFE8"/>
<rect x="298.1" y="268.47" width="11.3" height="7.63" fill="#00B9FF"/>
<rect x="298.1" y="276.10" width="11.3" height="7.63" fill="#005DFF"/>
<rect x="298.1" y="283.73" width="11.3" height="7.63" fill="#0000FF"/>
<line x1="298.10" y1="199.80" x2="313.10" y2="199.80" stroke="#aaa" stroke-width="0.7" />
<text x="317.90" y="201.70" font-size="8.3" font-weight="bold" textLength="46.4" lengthAdjust="spacingAndGlyphs">+7.132e+00</text>
<line x1="298.10" y1="207.43" x2="313.10" y2="207.43" stroke="#222" stroke-width="0.7" />
<text x="317.90" y="209.33" font-size="8.3" font-weight="bold" textLength="46.4" lengthAdjust="spacingAndGlyphs">+6.891e+00</text>
<line x1="298.10" y1="215.06" x2="313.10" y2="215.06" stroke="#222" stroke-width="0.7" />
<text x="317.90" y="216.96" font-size="8.3" font-weight="bold" textLength="46.4" lengthAdjust="spacingAndGlyphs">+6.650e+00</text>
<line x1="298.10" y1="222.69" x2="313.10" y2="222.69" stroke="#222" stroke-width="0.7" />
<text x="317.90" y="224.59" font-size="8.3" font-weight="bold" textLength="46.4" lengthAdjust="spacingAndGlyphs">+6.408e+00</text>
<line x1="298.10" y1="230.32" x2="313.10" y2="230.32" stroke="#222" stroke-width="0.7" />
<text x="317.90" y="232.22" font-size="8.3" font-weight="bold" textLength="46.4" lengthAdjust="spacingAndGlyphs">+6.167e+00</text>
<line x1="298.10" y1="237.95" x2="313.10" y2="237.95" stroke="#222" stroke-width="0.7" />
<text x="317.90" y="239.85" font-size="8.3" font-weight="bold" textLength="46.4" lengthAdjust="spacingAndGlyphs">+5.926e+00</text>
<line x1="298.10" y1="245.58" x2="313.10" y2="245.58" stroke="#222" stroke-width="0.7" />
<text x="317.90" y="247.48" font-size="8.3" font-weight="bold" textLength="46.4" lengthAdjust="spacingAndGlyphs">+5.684e+00</text>
<line x1="298.10" y1="253.21" x2="313.10" y2="253.21" stroke="#222" stroke-width="0.7" />
<text x="317.90" y="255.11" font-size="8.3" font-weight="bold" textLength="46.4" lengthAdjust="spacingAndGlyphs">+5.443e+00</text>
<line x1="298.10" y1="260.84" x2="313.10" y2="260.84" stroke="#222" stroke-width="0.7" />
<text x="317.90" y="262.74" font-size="8.3" font-weight="bold" textLength="46.4" lengthAdjust="spacingAndGlyphs">+5.201e+00</text>
<line x1="298.10" y1="268.47" x2="313.10" y2="268.47" stroke="#222" stroke-width="0.7" />
<text x="317.90" y="270.37" font-size="8.3" font-weight="bold" textLength="46.4" lengthAdjust="spacingAndGlyphs">+4.960e+00</text>
<line x1="298.10" y1="276.10" x2="313.10" y2="276.10" stroke="#222" stroke-width="0.7" />
<text x="317.90" y="278.00" font-size="8.3" font-weight="bold" textLength="46.4" lengthAdjust="spacingAndGlyphs">+4.719e+00</text>
<line x1="298.10" y1="283.73" x2="313.10" y2="283.73" stroke="#222" stroke-width="0.7" />
<text x="317.90" y="285.63" font-size="8.3" font-weight="bold" textLength="46.4" lengthAdjust="spacingAndGlyphs">+4.477e+00</text>
<line x1="298.10" y1="291.36" x2="313.10" y2="291.36" stroke="#222" stroke-width="0.7" />
<text x="317.90" y="293.26" font-size="8.3" font-weight="bold" textLength="46.4" lengthAdjust="spacingAndGlyphs">+4.236e+00</text>
<rect x="423.9" y="198.20" width="11.3" height="7.63" fill="#FF0000"/>
<rect x="423.9" y="205.83" width="11.3" height="7.63" fill="#FF5D00"/>
<rect x="423.9" y="213.46" width="11.3" height="7.63" fill="#FFB900"/>
<rect x="423.9" y="221.09" width="11.3" height="7.63" fill="#E8FF00"/>
<rect x="423.9" y="228.72" width="11.3" height="7.63" fill="#8BFF00"/>
<rect x="423.9" y="236.35" width="11.3" height="7.63" fill="#2EFF00"/>
<rect x="423.9" y="243.98" width="11.3" height="7.63" fill="#00FF2E"/>
<rect x="423.9" y="251.61" width="11.3" height="7.63" fill="#00FF8B"/>
<rect x="423.9" y="259.24" width="11.3" height="7.63" fill="#00FFE8"/>
<rect x="423.9" y="266.87" width="11.3" height="7.63" fill="#00B9FF"/>
<rect x="423.9" y="274.50" width="11.3" height="7.63" fill="#005DFF"/>
<rect x="423.9" y="282.13" width="11.3" height="7.63" fill="#0000FF"/>
<line x1="423.90" y1="198.20" x2="438.90" y2="198.20" stroke="#aaa" stroke-width="0.7" />
<text x="443.70" y="200.10" font-size="8.3" font-weight="bold" textLength="46.4" lengthAdjust="spacingAndGlyphs">+2.937e+00</text>
<line x1="423.90" y1="205.83" x2="438.90" y2="205.83" stroke="#222" stroke-width="0.7" />
<text x="443.70" y="207.73" font-size="8.3" font-weight="bold" textLength="46.4" lengthAdjust="spacingAndGlyphs">+2.642e+00</text>
<line x1="423.90" y1="213.46" x2="438.90" y2="213.46" stroke="#222" stroke-width="0.7" />
<text x="443.70" y="215.36" font-size="8.3" font-weight="bold" textLength="46.4" lengthAdjust="spacingAndGlyphs">+2.347e+00</text>
<line x1="423.90" y1="221.09" x2="438.90" y2="221.09" stroke="#222" stroke-width="0.7" />
<text x="443.70" y="222.99" font-size="8.3" font-weight="bold" textLength="46.4" lengthAdjust="spacingAndGlyphs">+2.052e+00</text>
<line x1="423.90" y1="228.72" x2="438.90" y2="228.72" stroke="#222" stroke-width="0.7" />
<text x="443.70" y="230.62" font-size="8.3" font-weight="bold" textLength="46.4" lengthAdjust="spacingAndGlyphs">+1.757e+00</text>
<line x1="423.90" y1="236.35" x2="438.90" y2="236.35" stroke="#222" stroke-width="0.7" />
<text x="443.70" y="238.25" font-size="8.3" font-weight="bold" textLength="46.4" lengthAdjust="spacingAndGlyphs">+1.462e+00</text>
<line x1="423.90" y1="243.98" x2="438.90" y2="243.98" stroke="#222" stroke-width="0.7" />
<text x="443.70" y="245.88" font-size="8.3" font-weight="bold" textLength="46.4" lengthAdjust="spacingAndGlyphs">+1.168e+00</text>
<line x1="423.90" y1="251.61" x2="438.90" y2="251.61" stroke="#222" stroke-width="0.7" />
<text x="443.70" y="253.51" font-size="8.3" font-weight="bold" textLength="46.4" lengthAdjust="spacingAndGlyphs">+8.726e-01</text>
<line x1="423.90" y1="259.24" x2="438.90" y2="259.24" stroke="#222" stroke-width="0.7" />
<text x="443.70" y="261.14" font-size="8.3" font-weight="bold" textLength="46.4" lengthAdjust="spacingAndGlyphs">+5.776e-01</text>
<line x1="423.90" y1="266.87" x2="438.90" y2="266.87" stroke="#222" stroke-width="0.7" />
<text x="443.70" y="268.77" font-size="8.3" font-weight="bold" textLength="46.4" lengthAdjust="spacingAndGlyphs">+2.827e-01</text>
<line x1="423.90" y1="274.50" x2="438.90" y2="274.50" stroke="#222" stroke-width="0.7" />
<text x="443.70" y="276.40" font-size="8.3" font-weight="bold" textLength="46.4" lengthAdjust="spacingAndGlyphs">-1.229e-02</text>
<line x1="423.90" y1="282.13" x2="438.90" y2="282.13" stroke="#222" stroke-width="0.7" />
<text x="443.70" y="284.03" font-size="8.3" font-weight="bold" textLength="46.4" lengthAdjust="spacingAndGlyphs">-3.072e-01</text>
<line x1="423.90" y1="289.76" x2="438.90" y2="289.76" stroke="#222" stroke-width="0.7" />
<text x="443.70" y="291.66" font-size="8.3" font-weight="bold" textLength="46.4" lengthAdjust="spacingAndGlyphs">-6.022e-01</text>
<text x="297.40" y="305.90" font-size="10.6" text-anchor="start" fill="#000" font-weight="bold" >Stress (MPa)</text>
<text x="422.20" y="305.30" font-size="10.6" text-anchor="start" fill="#000" font-weight="bold" >Stress (MPa)</text>
<text x="268.70" y="494.50" font-size="10.5" text-anchor="middle" fill="#000" font-weight="bold" >Y</text>
<text x="400.00" y="494.30" font-size="10.5" text-anchor="middle" fill="#000" font-weight="bold" >Z</text>
<line x1="346.70" y1="427.20" x2="346.70" y2="399.50" stroke="#000" stroke-width="1.6" />
<line x1="347.50" y1="426.50" x2="320.50" y2="426.50" stroke="#000" stroke-width="1.6" />
<path d="M346.7,393.8 L350.0,400.6 L343.4,400.6 Z" fill="#000"/>
<path d="M315.6,426.5 L322.4,423.2 L322.4,429.8 Z" fill="#000"/>
<text x="346.70" y="390.80" font-size="10.2" text-anchor="middle" fill="#000" font-weight="bold" >Y</text>
<text x="310.00" y="429.80" font-size="10.2" text-anchor="middle" fill="#000" font-weight="bold" >Z</text>
<text x="494.40" y="201.80" font-size="17.5" text-anchor="start" fill="#000" font-weight="bold" >f</text>
<polyline points="521.0,450.0 521.0,188.5 676.0,188.5" fill="none" stroke="#777" stroke-width="1"/>
<line x1="521.00" y1="188.50" x2="521.00" y2="450.00" stroke="#999" stroke-width="1.5" />
<line x1="676.00" y1="188.00" x2="676.00" y2="450.50" stroke="#9a9a9a" stroke-width="1.5" />
<line x1="521.00" y1="450.00" x2="676.70" y2="450.00" stroke="#888" stroke-width="1.2" />
<line x1="521.00" y1="338.00" x2="676.00" y2="338.00" stroke="#444" stroke-width="1" />
<line x1="521.00" y1="319.40" x2="523.80" y2="319.40" stroke="#333" stroke-width="0.9" />
<text x="518.40" y="322.40" font-size="8.3" text-anchor="end" fill="#000" font-weight="bold" >4.4</text>
<line x1="521.00" y1="279.14" x2="523.80" y2="279.14" stroke="#333" stroke-width="0.9" />
<text x="518.40" y="282.14" font-size="8.3" text-anchor="end" fill="#000" font-weight="bold" >4.8</text>
<line x1="521.00" y1="238.87" x2="523.80" y2="238.87" stroke="#333" stroke-width="0.9" />
<text x="518.40" y="241.87" font-size="8.3" text-anchor="end" fill="#000" font-weight="bold" >5.2</text>
<line x1="521.00" y1="198.60" x2="523.80" y2="198.60" stroke="#333" stroke-width="0.9" />
<text x="518.40" y="201.60" font-size="8.3" text-anchor="end" fill="#000" font-weight="bold" >5.6</text>
<line x1="521.00" y1="299.27" x2="522.60" y2="299.27" stroke="#333" stroke-width="0.9" />
<line x1="521.00" y1="259.00" x2="522.60" y2="259.00" stroke="#333" stroke-width="0.9" />
<line x1="521.00" y1="218.73" x2="522.60" y2="218.73" stroke="#333" stroke-width="0.9" />
<line x1="521.00" y1="338.00" x2="523.80" y2="338.00" stroke="#333" stroke-width="0.9" />
<text x="518.40" y="341.00" font-size="8.3" text-anchor="end" fill="#000" font-weight="bold" >0.0</text>
<line x1="521.00" y1="375.30" x2="523.80" y2="375.30" stroke="#333" stroke-width="0.9" />
<text x="518.40" y="378.30" font-size="8.3" text-anchor="end" fill="#000" font-weight="bold" >-0.2</text>
<line x1="521.00" y1="412.60" x2="523.80" y2="412.60" stroke="#333" stroke-width="0.9" />
<text x="518.40" y="415.60" font-size="8.3" text-anchor="end" fill="#000" font-weight="bold" >-0.4</text>
<text x="518.40" y="452.90" font-size="8.3" text-anchor="end" fill="#000" font-weight="bold" >-0.6</text>
<line x1="521.00" y1="356.65" x2="522.60" y2="356.65" stroke="#333" stroke-width="0.9" />
<line x1="521.00" y1="393.95" x2="522.60" y2="393.95" stroke="#333" stroke-width="0.9" />
<line x1="521.00" y1="431.25" x2="522.60" y2="431.25" stroke="#333" stroke-width="0.9" />
<line x1="535.00" y1="450.00" x2="535.00" y2="447.40" stroke="#333" stroke-width="0.9" />
<text x="535.00" y="460.00" font-size="8.6" text-anchor="middle" fill="#000" font-weight="bold" >1.20</text>
<line x1="563.13" y1="450.00" x2="563.13" y2="447.40" stroke="#333" stroke-width="0.9" />
<text x="563.13" y="460.00" font-size="8.6" text-anchor="middle" fill="#000" font-weight="bold" >1.25</text>
<line x1="591.26" y1="450.00" x2="591.26" y2="447.40" stroke="#333" stroke-width="0.9" />
<text x="591.26" y="460.00" font-size="8.6" text-anchor="middle" fill="#000" font-weight="bold" >1.30</text>
<line x1="619.39" y1="450.00" x2="619.39" y2="447.40" stroke="#333" stroke-width="0.9" />
<text x="619.39" y="460.00" font-size="8.6" text-anchor="middle" fill="#000" font-weight="bold" >1.35</text>
<line x1="647.52" y1="450.00" x2="647.52" y2="447.40" stroke="#333" stroke-width="0.9" />
<text x="647.52" y="460.00" font-size="8.6" text-anchor="middle" fill="#000" font-weight="bold" >1.40</text>
<text x="675.65" y="460.00" font-size="8.6" text-anchor="middle" fill="#000" font-weight="bold" >1.45</text>
<line x1="549.07" y1="450.00" x2="549.07" y2="448.50" stroke="#333" stroke-width="0.9" />
<line x1="577.20" y1="450.00" x2="577.20" y2="448.50" stroke="#333" stroke-width="0.9" />
<line x1="605.33" y1="450.00" x2="605.33" y2="448.50" stroke="#333" stroke-width="0.9" />
<line x1="633.46" y1="450.00" x2="633.46" y2="448.50" stroke="#333" stroke-width="0.9" />
<line x1="661.59" y1="450.00" x2="661.59" y2="448.50" stroke="#333" stroke-width="0.9" />
<text x="598.50" y="471.00" font-size="10.65" text-anchor="middle" fill="#000" font-weight="bold" >Draw-down ratio</text>
<text transform="translate(503.30,318.50) rotate(-90)" font-size="10.65" text-anchor="middle" fill="#000" font-weight="bold" >Stress (MPa)</text>
<polyline points="535.00,310.55 557.50,278.13 580.01,253.97 602.51,248.94 613.76,247.12 636.27,226.99 653.15,208.47" fill="none" stroke="#f06a6a" stroke-width="0.8"/>
<polyline points="535.00,349.38 557.50,368.03 580.01,385.00 602.51,392.46 613.76,415.02 636.27,418.38 653.15,442.63" fill="none" stroke="#5ab4f0" stroke-width="0.8"/>
<circle cx="535.00" cy="310.55" r="2.2" fill="url(#gred2)"/>
<circle cx="557.50" cy="278.13" r="2.2" fill="url(#gred2)"/>
<circle cx="580.01" cy="253.97" r="2.2" fill="url(#gred2)"/>
<circle cx="602.51" cy="248.94" r="2.2" fill="url(#gred2)"/>
<circle cx="613.76" cy="247.12" r="2.2" fill="url(#gred2)"/>
<circle cx="636.27" cy="226.99" r="2.2" fill="url(#gred2)"/>
<circle cx="653.15" cy="208.47" r="2.2" fill="url(#gred2)"/>
<circle cx="535.00" cy="349.38" r="2.2" fill="url(#gblu2)"/>
<circle cx="557.50" cy="368.03" r="2.2" fill="url(#gblu2)"/>
<circle cx="580.01" cy="385.00" r="2.2" fill="url(#gblu2)"/>
<circle cx="602.51" cy="392.46" r="2.2" fill="url(#gblu2)"/>
<circle cx="613.76" cy="415.02" r="2.2" fill="url(#gblu2)"/>
<circle cx="636.27" cy="418.38" r="2.2" fill="url(#gblu2)"/>
<circle cx="653.15" cy="442.63" r="2.2" fill="url(#gblu2)"/>
<line x1="587.00" y1="199.00" x2="600.40" y2="199.00" stroke="#f4a4a4" stroke-width="0.9" />
<circle cx="594" cy="199" r="2.0" fill="url(#gred2)"/>
<text x="604.30" y="202.80" font-size="10.5" text-anchor="middle" fill="#e84a4a" font-weight="normal" stroke="#e84a4a" stroke-width="0.35">Y</text>
<line x1="588.00" y1="347.60" x2="601.00" y2="347.60" stroke="#a4d4f8" stroke-width="0.9" />
<circle cx="594.5" cy="347.6" r="2.0" fill="url(#gblu2)"/>
<text x="605.00" y="351.00" font-size="10.5" text-anchor="middle" fill="#40a8f0" font-weight="normal" stroke="#40a8f0" stroke-width="0.35">Z</text>
</svg>
</body></html>
